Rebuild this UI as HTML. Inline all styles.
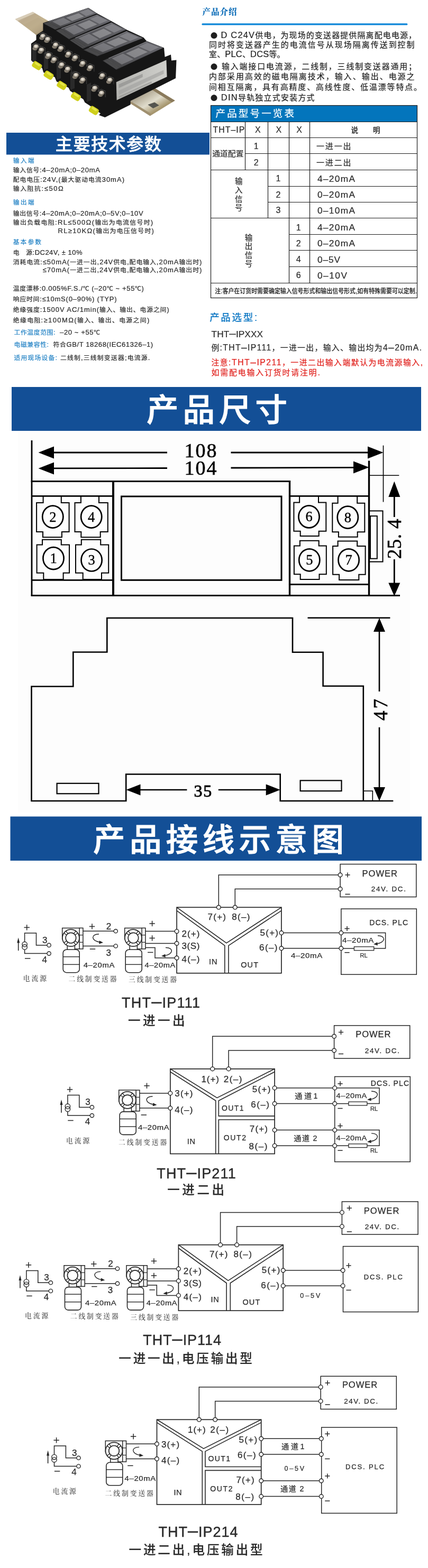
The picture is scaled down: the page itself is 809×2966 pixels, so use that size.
<!DOCTYPE html>
<html lang="zh-CN">
<head>
<meta charset="utf-8">
<title>THT-IP 隔离配电器 产品介绍</title>
<style>
html,body{margin:0;padding:0;background:#fff;}
body{width:809px;height:2966px;overflow:hidden;position:relative;font-family:"Liberation Sans","Noto Sans CJK SC",sans-serif;}
svg{position:absolute;left:0;top:0;display:block;will-change:transform;}
text{white-space:pre;font-family:"Liberation Sans","Noto Sans CJK SC",sans-serif;}
.lr{font-family:"Liberation Serif","Noto Serif CJK SC",serif;}
.cr{font-family:"Noto Serif CJK SC","Liberation Serif",serif;}
</style>
</head>
<body>
<svg width="809" height="2966" viewBox="0 0 809 2966">
<!-- product photo -->
<defs>
<linearGradient id="railA" x1="0" y1="0" x2="1" y2="1"><stop offset="0" stop-color="#d8ccb4"/><stop offset="0.3" stop-color="#bcab8e"/><stop offset="0.6" stop-color="#c4b490"/><stop offset="1" stop-color="#8c7c60"/></linearGradient>
<linearGradient id="railB" x1="0" y1="0" x2="1" y2="1"><stop offset="0" stop-color="#5e5242"/><stop offset="0.3" stop-color="#b8b09c"/><stop offset="0.5" stop-color="#e0dccc"/><stop offset="0.7" stop-color="#a89870"/><stop offset="1" stop-color="#7c6a4c"/></linearGradient>
<linearGradient id="topF" x1="0" y1="1" x2="1" y2="0"><stop offset="0" stop-color="#3e3e40"/><stop offset="0.3" stop-color="#525256"/><stop offset="1" stop-color="#6a6a70"/></linearGradient>
<radialGradient id="scr" cx="0.45" cy="0.4" r="0.65"><stop offset="0" stop-color="#f6f2ea"/><stop offset="0.45" stop-color="#c4bcae"/><stop offset="1" stop-color="#3a342c"/></radialGradient>
<linearGradient id="lab" x1="0" y1="0" x2="1" y2="0"><stop offset="0" stop-color="#b4b4b0"/><stop offset="1" stop-color="#cfcfcb"/></linearGradient>
<filter id="blur1" x="-5%" y="-5%" width="110%" height="110%"><feGaussianBlur stdDeviation="0.45"/></filter>
</defs>
<g filter="url(#blur1)">
<polygon points="28.6,36.2 62.1,22.5 92.0,40.0 84.0,60.0 68.9,66.5" fill="url(#railA)" />
<polygon points="28.6,36.2 62.1,22.5 66.0,25.0 33.0,39.5" fill="#d8cdb8" />
<polygon points="44.0,47.0 72.0,33.0 86.0,42.0 78.0,58.0 68.0,64.0" fill="#b8a888" opacity="0.55"/>
<polygon points="243.9,187.9 292.2,166.6 330.7,190.2 283.7,219.2 245.3,195.0" fill="url(#railB)" />
<polygon points="292.2,166.6 330.7,190.2 325.0,193.6 288.0,170.3" fill="#8a7a5c" />
<polygon points="245.3,195.0 283.7,219.2 286.6,215.8 248.2,192.2" fill="#a09070" />
<polygon points="279.4,197.9 292.2,193.6 300.8,199.3 289.4,205.0" fill="#55554f" />
<polygon points="81.4,43.5 167.0,14.8 183.7,25.4 211.0,40.2 239.4,56.2 271.3,70.9 277.0,77.5 310.0,90.5 311.6,107.7 323.0,103.2 324.1,114.5 333.5,113.4 332.1,148.1 297.9,165.2 246.7,190.8 246.7,197.9 198.4,222.1 187.0,217.8 190.0,214.5 170.0,200.0 160.4,193.8 157.5,187.8 132.6,172.0 129.6,166.0 106.7,154.0 103.7,146.0 82.2,137.0 79.8,129.0 58.9,114.2 58.9,82.5 68.5,75.5 68.5,66.5 81.4,58.0" fill="#151515" />
<polygon points="60.7,84.0 68.7,80.0 68.7,114.0 60.7,117.0" fill="#2a2a2a" />
<polygon points="83.0,100.0 91.0,96.0 91.0,130.0 83.0,133.0" fill="#2a2a2a" />
<polygon points="107.0,118.0 115.0,114.0 115.0,148.0 107.0,151.0" fill="#2a2a2a" />
<polygon points="133.0,137.0 141.0,133.0 141.0,167.0 133.0,170.0" fill="#2a2a2a" />
<polygon points="164.0,160.0 172.0,156.0 172.0,190.0 164.0,193.0" fill="#2a2a2a" />
<polygon points="81.4,44.1 167.0,15.3 183.2,25.6 104.6,56.3" fill="#38383a" />
<polygon points="92.5,40.4 167.0,15.3 182.9,25.4 114.3,52.1" fill="url(#topF)" />
<polygon points="83.2,44.3 83.9,44.1 104.8,55.1 104.2,55.4" fill="#6a6a6a" opacity="0.75"/>
<polygon points="84.7,43.8 85.4,43.6 106.2,54.6 105.6,54.8" fill="#6a6a6a" opacity="0.75"/>
<polygon points="86.3,43.3 87.0,43.0 107.7,54.0 107.0,54.3" fill="#6a6a6a" opacity="0.75"/>
<polygon points="87.8,42.8 88.5,42.5 109.1,53.5 108.4,53.7" fill="#6a6a6a" opacity="0.75"/>
<polygon points="89.4,42.2 90.0,42.0 110.5,52.9 109.9,53.2" fill="#6a6a6a" opacity="0.75"/>
<polygon points="90.9,41.7 91.6,41.5 111.9,52.4 111.3,52.6" fill="#6a6a6a" opacity="0.75"/>
<polygon points="92.4,41.2 93.1,41.0 113.3,51.8 112.7,52.1" fill="#6a6a6a" opacity="0.75"/>
<polygon points="98.7,40.7 119.9,33.4 134.1,41.4 114.1,49.0" fill="#b0b0b4" opacity="0.4"/>
<polygon points="124.9,33.2 148.5,25.0 158.9,31.2 136.4,39.7" fill="#c0c0c4" opacity="0.45"/>
<polygon points="150.4,23.0 166.5,17.4 178.0,24.7 162.8,30.5" fill="#b0b0b4" opacity="0.4"/>
<polygon points="92.5,40.4 167.0,15.3 167.8,15.8 93.7,41.0" fill="#8c8c90" opacity="0.7"/>
<polygon points="105.3,57.5 183.7,27.5 210.2,40.3 130.7,74.4" fill="#38383a" />
<polygon points="115.5,53.6 183.7,27.5 209.6,40.0 140.5,69.6" fill="url(#topF)" />
<polygon points="107.1,57.9 107.8,57.7 130.8,72.9 130.2,73.2" fill="#6a6a6a" opacity="0.75"/>
<polygon points="108.5,57.4 109.2,57.1 132.3,72.3 131.6,72.6" fill="#6a6a6a" opacity="0.75"/>
<polygon points="110.0,56.8 110.6,56.6 133.7,71.7 133.1,72.0" fill="#6a6a6a" opacity="0.75"/>
<polygon points="111.4,56.3 112.0,56.0 135.1,71.1 134.5,71.3" fill="#6a6a6a" opacity="0.75"/>
<polygon points="112.8,55.7 113.4,55.5 136.6,70.5 135.9,70.7" fill="#6a6a6a" opacity="0.75"/>
<polygon points="114.2,55.2 114.8,54.9 138.0,69.9 137.3,70.1" fill="#6a6a6a" opacity="0.75"/>
<polygon points="115.6,54.6 116.2,54.4 139.4,69.2 138.8,69.5" fill="#6a6a6a" opacity="0.75"/>
<polygon points="121.8,54.4 141.4,46.8 159.6,57.4 139.7,65.7" fill="#b0b0b4" opacity="0.4"/>
<polygon points="146.7,46.8 168.7,38.2 183.8,46.2 161.7,55.5" fill="#c0c0c4" opacity="0.45"/>
<polygon points="169.7,35.8 184.6,30.0 203.2,39.1 188.1,45.4" fill="#b0b0b4" opacity="0.4"/>
<polygon points="115.5,53.6 183.7,27.5 185.1,28.2 116.8,54.4" fill="#8c8c90" opacity="0.7"/>
<polygon points="131.5,76.0 211.0,42.5 238.5,56.3 156.9,92.6" fill="#38383a" />
<polygon points="141.8,71.6 211.0,42.5 238.0,56.0 167.0,87.5" fill="url(#topF)" />
<polygon points="133.3,76.3 134.0,76.1 157.1,91.1 156.4,91.4" fill="#6a6a6a" opacity="0.75"/>
<polygon points="134.8,75.7 135.4,75.5 158.5,90.4 157.9,90.7" fill="#6a6a6a" opacity="0.75"/>
<polygon points="136.2,75.1 136.8,74.9 160.0,89.8 159.4,90.1" fill="#6a6a6a" opacity="0.75"/>
<polygon points="137.6,74.5 138.3,74.3 161.5,89.1 160.8,89.4" fill="#6a6a6a" opacity="0.75"/>
<polygon points="139.1,73.9 139.7,73.7 162.9,88.5 162.3,88.8" fill="#6a6a6a" opacity="0.75"/>
<polygon points="140.5,73.3 141.1,73.1 164.4,87.8 163.8,88.1" fill="#6a6a6a" opacity="0.75"/>
<polygon points="141.9,72.7 142.6,72.4 165.9,87.2 165.2,87.5" fill="#6a6a6a" opacity="0.75"/>
<polygon points="148.2,72.3 168.1,63.8 186.6,74.6 166.3,83.6" fill="#b0b0b4" opacity="0.4"/>
<polygon points="173.5,63.7 195.9,54.2 211.5,62.6 188.8,72.6" fill="#c0c0c4" opacity="0.45"/>
<polygon points="196.9,51.7 212.0,45.2 231.3,54.9 215.8,61.7" fill="#b0b0b4" opacity="0.4"/>
<polygon points="141.8,71.6 211.0,42.5 212.4,43.2 143.2,72.5" fill="#8c8c90" opacity="0.7"/>
<polygon points="157.7,94.5 239.4,59.0 270.3,72.2 184.2,106.6" fill="#38383a" />
<polygon points="168.3,89.9 239.4,59.0 269.7,71.9 194.8,101.9" fill="url(#topF)" />
<polygon points="159.6,94.6 160.3,94.4 184.4,105.4 183.7,105.7" fill="#6a6a6a" opacity="0.75"/>
<polygon points="161.1,94.0 161.7,93.7 185.9,104.8 185.2,105.0" fill="#6a6a6a" opacity="0.75"/>
<polygon points="162.6,93.4 163.2,93.1 187.5,104.1 186.8,104.4" fill="#6a6a6a" opacity="0.75"/>
<polygon points="164.0,92.7 164.7,92.4 189.0,103.5 188.3,103.8" fill="#6a6a6a" opacity="0.75"/>
<polygon points="165.5,92.1 166.2,91.8 190.5,102.9 189.9,103.2" fill="#6a6a6a" opacity="0.75"/>
<polygon points="167.0,91.5 167.6,91.2 192.1,102.3 191.4,102.6" fill="#6a6a6a" opacity="0.75"/>
<polygon points="168.5,90.8 169.1,90.5 193.6,101.7 193.0,101.9" fill="#6a6a6a" opacity="0.75"/>
<polygon points="175.0,90.0 195.5,81.1 215.4,90.0 194.1,98.6" fill="#b0b0b4" opacity="0.4"/>
<polygon points="201.2,80.8 224.3,70.9 241.5,78.3 217.6,88.1" fill="#c0c0c4" opacity="0.45"/>
<polygon points="225.1,68.4 240.8,61.7 262.4,70.9 246.1,77.5" fill="#b0b0b4" opacity="0.4"/>
<polygon points="168.3,89.9 239.4,59.0 241.0,59.7 169.7,90.5" fill="#8c8c90" opacity="0.7"/>
<polygon points="193.9,114.7 277.0,78.3 309.0,90.4 219.8,132.0" fill="#38383a" />
<polygon points="204.7,110.0 277.0,78.3 308.4,90.2 230.8,126.2" fill="url(#topF)" />
<polygon points="195.8,115.0 196.5,114.8 220.1,130.3 219.4,130.7" fill="#6a6a6a" opacity="0.75"/>
<polygon points="197.3,114.4 198.0,114.1 221.7,129.6 221.0,129.9" fill="#6a6a6a" opacity="0.75"/>
<polygon points="198.8,113.7 199.5,113.4 223.3,128.8 222.6,129.2" fill="#6a6a6a" opacity="0.75"/>
<polygon points="200.3,113.1 201.0,112.8 224.9,128.1 224.2,128.4" fill="#6a6a6a" opacity="0.75"/>
<polygon points="201.8,112.4 202.5,112.1 226.5,127.4 225.8,127.7" fill="#6a6a6a" opacity="0.75"/>
<polygon points="203.3,111.8 204.0,111.5 228.1,126.6 227.4,126.9" fill="#6a6a6a" opacity="0.75"/>
<polygon points="204.8,111.1 205.5,110.8 229.7,125.9 229.0,126.2" fill="#6a6a6a" opacity="0.75"/>
<polygon points="211.4,110.5 232.3,101.3 252.3,111.9 230.2,122.0" fill="#b0b0b4" opacity="0.4"/>
<polygon points="238.0,101.0 261.7,90.5 279.2,98.3 254.6,109.6" fill="#c0c0c4" opacity="0.45"/>
<polygon points="262.5,87.9 278.4,80.9 300.8,89.5 284.0,97.2" fill="#b0b0b4" opacity="0.4"/>
<polygon points="204.7,110.0 277.0,78.3 278.6,78.9 206.1,110.8" fill="#8c8c90" opacity="0.7"/>
<polygon points="219.7,155.2 314.4,113.4 315.6,145.3 220.6,189.4" fill="url(#lab)" />
<polygon points="224.5,159.5 269.5,139.6 269.8,145.8 224.8,166.6" fill="#8a8a88" opacity="0.6"/>
<polygon points="224.5,171.4 309.3,132.5 309.6,139.6 224.8,179.4" fill="#a0a09e" opacity="0.6"/>
<polygon points="224.5,182.2 286.6,153.8 286.8,157.2 224.8,185.7" fill="#8a8a88" opacity="0.5"/>
<path d="M73.7,65.4 L80.2,61.4 L88.2,64.9" fill="none" stroke="#4a4a4a" stroke-width="1.3"/>
<path d="M88.2,64.9 L88.2,76.4" fill="none" stroke="#3a3a3a" stroke-width="1.2"/>
<ellipse cx="79.0" cy="72.0" rx="4.8" ry="3.4" fill="#857d70"/>
<ellipse cx="81.2" cy="68.4" rx="5.4" ry="4.6" fill="url(#scr)"/>
<path d="M82.8,71.1 L89.3,67.1 L97.3,70.6" fill="none" stroke="#4a4a4a" stroke-width="1.3"/>
<path d="M97.3,70.6 L97.3,82.1" fill="none" stroke="#3a3a3a" stroke-width="1.2"/>
<ellipse cx="88.1" cy="77.7" rx="4.8" ry="3.4" fill="#857d70"/>
<ellipse cx="90.3" cy="74.1" rx="5.4" ry="4.6" fill="url(#scr)"/>
<path d="M60.9,85.3 L67.4,81.3 L75.4,84.8" fill="none" stroke="#4a4a4a" stroke-width="1.3"/>
<path d="M75.4,84.8 L75.4,96.3" fill="none" stroke="#3a3a3a" stroke-width="1.2"/>
<ellipse cx="66.2" cy="91.9" rx="4.8" ry="3.4" fill="#857d70"/>
<ellipse cx="68.4" cy="88.3" rx="5.4" ry="4.6" fill="url(#scr)"/>
<path d="M70.9,91.5 L77.4,87.5 L85.4,91.0" fill="none" stroke="#4a4a4a" stroke-width="1.3"/>
<path d="M85.4,91.0 L85.4,102.5" fill="none" stroke="#3a3a3a" stroke-width="1.2"/>
<ellipse cx="76.2" cy="98.1" rx="4.8" ry="3.4" fill="#857d70"/>
<ellipse cx="78.4" cy="94.5" rx="5.4" ry="4.6" fill="url(#scr)"/>
<path d="M97.9,81.9 L104.4,77.9 L112.4,81.4" fill="none" stroke="#4a4a4a" stroke-width="1.3"/>
<path d="M112.4,81.4 L112.4,92.9" fill="none" stroke="#3a3a3a" stroke-width="1.2"/>
<ellipse cx="103.2" cy="88.5" rx="4.8" ry="3.4" fill="#857d70"/>
<ellipse cx="105.4" cy="84.9" rx="5.4" ry="4.6" fill="url(#scr)"/>
<path d="M107.8,88.1 L114.3,84.1 L122.3,87.6" fill="none" stroke="#4a4a4a" stroke-width="1.3"/>
<path d="M122.3,87.6 L122.3,99.1" fill="none" stroke="#3a3a3a" stroke-width="1.2"/>
<ellipse cx="113.1" cy="94.7" rx="4.8" ry="3.4" fill="#857d70"/>
<ellipse cx="115.3" cy="91.1" rx="5.4" ry="4.6" fill="url(#scr)"/>
<path d="M84.5,101.5 L91.0,97.5 L99.0,101.0" fill="none" stroke="#4a4a4a" stroke-width="1.3"/>
<path d="M99.0,101.0 L99.0,112.5" fill="none" stroke="#3a3a3a" stroke-width="1.2"/>
<ellipse cx="89.8" cy="108.1" rx="4.8" ry="3.4" fill="#857d70"/>
<ellipse cx="92.0" cy="104.5" rx="5.4" ry="4.6" fill="url(#scr)"/>
<path d="M95.0,109.5 L101.5,105.5 L109.5,109.0" fill="none" stroke="#4a4a4a" stroke-width="1.3"/>
<path d="M109.5,109.0 L109.5,120.5" fill="none" stroke="#3a3a3a" stroke-width="1.2"/>
<ellipse cx="100.3" cy="116.1" rx="4.8" ry="3.4" fill="#857d70"/>
<ellipse cx="102.5" cy="112.5" rx="5.4" ry="4.6" fill="url(#scr)"/>
<path d="M122.1,98.9 L128.6,94.9 L136.6,98.4" fill="none" stroke="#4a4a4a" stroke-width="1.3"/>
<path d="M136.6,98.4 L136.6,109.9" fill="none" stroke="#3a3a3a" stroke-width="1.2"/>
<ellipse cx="127.4" cy="105.5" rx="4.8" ry="3.4" fill="#857d70"/>
<ellipse cx="129.6" cy="101.9" rx="5.4" ry="4.6" fill="url(#scr)"/>
<path d="M134.9,105.8 L141.4,101.8 L149.4,105.3" fill="none" stroke="#4a4a4a" stroke-width="1.3"/>
<path d="M149.4,105.3 L149.4,116.8" fill="none" stroke="#3a3a3a" stroke-width="1.2"/>
<ellipse cx="140.2" cy="112.4" rx="4.8" ry="3.4" fill="#857d70"/>
<ellipse cx="142.4" cy="108.8" rx="5.4" ry="4.6" fill="url(#scr)"/>
<path d="M109.3,119.4 L115.8,115.4 L123.8,118.9" fill="none" stroke="#4a4a4a" stroke-width="1.3"/>
<path d="M123.8,118.9 L123.8,130.4" fill="none" stroke="#3a3a3a" stroke-width="1.2"/>
<ellipse cx="114.6" cy="126.0" rx="4.8" ry="3.4" fill="#857d70"/>
<ellipse cx="116.8" cy="122.4" rx="5.4" ry="4.6" fill="url(#scr)"/>
<path d="M120.7,127.4 L127.2,123.4 L135.2,126.9" fill="none" stroke="#4a4a4a" stroke-width="1.3"/>
<path d="M135.2,126.9 L135.2,138.4" fill="none" stroke="#3a3a3a" stroke-width="1.2"/>
<ellipse cx="126.0" cy="134.0" rx="4.8" ry="3.4" fill="#857d70"/>
<ellipse cx="128.2" cy="130.4" rx="5.4" ry="4.6" fill="url(#scr)"/>
<path d="M149.1,116.6 L155.6,112.6 L163.6,116.1" fill="none" stroke="#4a4a4a" stroke-width="1.3"/>
<path d="M163.6,116.1 L163.6,127.6" fill="none" stroke="#3a3a3a" stroke-width="1.2"/>
<ellipse cx="154.4" cy="123.2" rx="4.8" ry="3.4" fill="#857d70"/>
<ellipse cx="156.6" cy="119.6" rx="5.4" ry="4.6" fill="url(#scr)"/>
<path d="M163.3,124.5 L169.8,120.5 L177.8,124.0" fill="none" stroke="#4a4a4a" stroke-width="1.3"/>
<path d="M177.8,124.0 L177.8,135.5" fill="none" stroke="#3a3a3a" stroke-width="1.2"/>
<ellipse cx="168.6" cy="131.1" rx="4.8" ry="3.4" fill="#857d70"/>
<ellipse cx="170.8" cy="127.5" rx="5.4" ry="4.6" fill="url(#scr)"/>
<path d="M136.3,139.3 L142.8,135.3 L150.8,138.8" fill="none" stroke="#4a4a4a" stroke-width="1.3"/>
<path d="M150.8,138.8 L150.8,150.3" fill="none" stroke="#3a3a3a" stroke-width="1.2"/>
<ellipse cx="141.6" cy="145.9" rx="4.8" ry="3.4" fill="#857d70"/>
<ellipse cx="143.8" cy="142.3" rx="5.4" ry="4.6" fill="url(#scr)"/>
<path d="M149.1,147.9 L155.6,143.9 L163.6,147.4" fill="none" stroke="#4a4a4a" stroke-width="1.3"/>
<path d="M163.6,147.4 L163.6,158.9" fill="none" stroke="#3a3a3a" stroke-width="1.2"/>
<ellipse cx="154.4" cy="154.5" rx="4.8" ry="3.4" fill="#857d70"/>
<ellipse cx="156.6" cy="150.9" rx="5.4" ry="4.6" fill="url(#scr)"/>
<path d="M186.1,139.9 L192.6,135.9 L200.6,139.4" fill="none" stroke="#4a4a4a" stroke-width="1.3"/>
<path d="M200.6,139.4 L200.6,150.9" fill="none" stroke="#3a3a3a" stroke-width="1.2"/>
<ellipse cx="191.4" cy="146.5" rx="4.8" ry="3.4" fill="#857d70"/>
<ellipse cx="193.6" cy="142.9" rx="5.4" ry="4.6" fill="url(#scr)"/>
<path d="M200.3,148.4 L206.8,144.4 L214.8,147.9" fill="none" stroke="#4a4a4a" stroke-width="1.3"/>
<path d="M214.8,147.9 L214.8,159.4" fill="none" stroke="#3a3a3a" stroke-width="1.2"/>
<ellipse cx="205.6" cy="155.0" rx="4.8" ry="3.4" fill="#857d70"/>
<ellipse cx="207.8" cy="151.4" rx="5.4" ry="4.6" fill="url(#scr)"/>
<path d="M171.9,163.5 L178.4,159.5 L186.4,163.0" fill="none" stroke="#4a4a4a" stroke-width="1.3"/>
<path d="M186.4,163.0 L186.4,174.5" fill="none" stroke="#3a3a3a" stroke-width="1.2"/>
<ellipse cx="177.2" cy="170.1" rx="4.8" ry="3.4" fill="#857d70"/>
<ellipse cx="179.4" cy="166.5" rx="5.4" ry="4.6" fill="url(#scr)"/>
<path d="M184.7,172.9 L191.2,168.9 L199.2,172.4" fill="none" stroke="#4a4a4a" stroke-width="1.3"/>
<path d="M199.2,172.4 L199.2,183.9" fill="none" stroke="#3a3a3a" stroke-width="1.2"/>
<ellipse cx="190.0" cy="179.5" rx="4.8" ry="3.4" fill="#857d70"/>
<ellipse cx="192.2" cy="175.9" rx="5.4" ry="4.6" fill="url(#scr)"/>
<rect x="61.0" y="117.9" width="18" height="12.5" rx="4" fill="#cfcf1c" transform="rotate(32 70.0 123.9)"/>
<rect x="64.0" y="119.4" width="11" height="4" rx="2" fill="#e6e64a" transform="rotate(32 70.0 123.9)"/>
<rect x="83.1" y="136.1" width="18" height="12.5" rx="4" fill="#cfcf1c" transform="rotate(32 92.1 142.1)"/>
<rect x="86.1" y="137.6" width="11" height="4" rx="2" fill="#e6e64a" transform="rotate(32 92.1 142.1)"/>
<rect x="107.9" y="155.4" width="18" height="12.5" rx="4" fill="#cfcf1c" transform="rotate(32 116.9 161.4)"/>
<rect x="110.9" y="156.9" width="11" height="4" rx="2" fill="#e6e64a" transform="rotate(32 116.9 161.4)"/>
<rect x="134.6" y="176.4" width="18" height="12.5" rx="4" fill="#cfcf1c" transform="rotate(32 143.6 182.4)"/>
<rect x="137.6" y="177.9" width="11" height="4" rx="2" fill="#e6e64a" transform="rotate(32 143.6 182.4)"/>
<rect x="168.5" y="202.8" width="18" height="12.5" rx="4" fill="#cfcf1c" transform="rotate(32 177.5 208.8)"/>
<rect x="171.5" y="204.3" width="11" height="4" rx="2" fill="#e6e64a" transform="rotate(32 177.5 208.8)"/>
</g>
<!-- specs, intro and model table -->
<rect x="12" y="251" width="384" height="41.5" fill="#134f96"/>
<text x="104.8" y="284.3" font-size="32.3" fill="#fff" font-weight="500" textLength="200.2" lengthAdjust="spacing" stroke="#fff" stroke-width="0.5" stroke-linejoin="round">主要技术参数</text>
<text x="24.8" y="307.9" font-size="11.8" fill="#2080c4" textLength="39.7" lengthAdjust="spacing" stroke="#2080c4" stroke-width="0.22" stroke-linejoin="round">输入端</text>
<text x="24.8" y="326.4" font-size="11.8" fill="#2a2a2a" textLength="164.2" lengthAdjust="spacing" stroke="#2a2a2a" stroke-width="0.22" stroke-linejoin="round">输入信号<tspan font-size="13.0">:4–20mA;0–20mA</tspan></text>
<text x="24.8" y="343.6" font-size="11.8" fill="#2a2a2a" textLength="210.2" lengthAdjust="spacing" stroke="#2a2a2a" stroke-width="0.22" stroke-linejoin="round">配电电压<tspan font-size="13.0">:24V,(</tspan>最大驱动电流<tspan font-size="13.0">30mA)</tspan></text>
<text x="24.8" y="360.9" font-size="11.8" fill="#2a2a2a" textLength="95.0" lengthAdjust="spacing" stroke="#2a2a2a" stroke-width="0.22" stroke-linejoin="round">输入阻抗<tspan font-size="13.0">:≤50Ω</tspan></text>
<text x="24.8" y="386.8" font-size="11.8" fill="#2080c4" textLength="39.7" lengthAdjust="spacing" stroke="#2080c4" stroke-width="0.22" stroke-linejoin="round">输出端</text>
<text x="24.8" y="408.2" font-size="11.8" fill="#2a2a2a" textLength="245.9" lengthAdjust="spacing" stroke="#2a2a2a" stroke-width="0.22" stroke-linejoin="round">输出信号<tspan font-size="13.0">:4–20mA;0–20mA;0–5V;0–10V</tspan></text>
<text x="24.8" y="425.4" font-size="11.8" fill="#2a2a2a" textLength="264.4" lengthAdjust="spacing" stroke="#2a2a2a" stroke-width="0.22" stroke-linejoin="round">输出负载电阻<tspan font-size="13.0">:RL≤500Ω(</tspan>输出为电流信号时<tspan font-size="13.0">)</tspan></text>
<text x="109.4" y="441.0" font-size="11.8" fill="#2a2a2a" textLength="181.5" lengthAdjust="spacing" stroke="#2a2a2a" stroke-width="0.22" stroke-linejoin="round"><tspan font-size="13.0">RL≥10KΩ(</tspan>输出为电压信号时<tspan font-size="13.0">)</tspan></text>
<text x="24.8" y="461.7" font-size="11.8" fill="#2080c4" textLength="53.2" lengthAdjust="spacing" stroke="#2080c4" stroke-width="0.22" stroke-linejoin="round">基本参数</text>
<text x="24.8" y="481.9" font-size="11.8" fill="#2a2a2a" textLength="130.7" lengthAdjust="spacing" stroke="#2a2a2a" stroke-width="0.22" stroke-linejoin="round">电　源<tspan font-size="13.0">:DC24V, ± 10%</tspan></text>
<text x="24.8" y="500.3" font-size="11.8" fill="#2a2a2a" textLength="356.5" lengthAdjust="spacing" stroke="#2a2a2a" stroke-width="0.22" stroke-linejoin="round">消耗电流<tspan font-size="13.0">:≤50mA(</tspan>一进一出<tspan font-size="13.0">,24V</tspan>供电<tspan font-size="13.0">,</tspan>配电输入<tspan font-size="13.0">,20mA</tspan>输出时<tspan font-size="13.0">)</tspan></text>
<text x="80.6" y="515.3" font-size="11.8" fill="#2a2a2a" textLength="300.7" lengthAdjust="spacing" stroke="#2a2a2a" stroke-width="0.22" stroke-linejoin="round"><tspan font-size="13.0">≤70mA(</tspan>一进二出<tspan font-size="13.0">,24V</tspan>供电<tspan font-size="13.0">,</tspan>配电输入<tspan font-size="13.0">,20mA</tspan>输出时<tspan font-size="13.0">)</tspan></text>
<text x="24.8" y="550.4" font-size="11.8" fill="#2a2a2a" textLength="247.1" lengthAdjust="spacing" stroke="#2a2a2a" stroke-width="0.22" stroke-linejoin="round">温度漂移<tspan font-size="13.0">:0.005%F.S./</tspan>℃ <tspan font-size="13.0">(–20</tspan>℃ <tspan font-size="13.0">~ +55</tspan>℃<tspan font-size="13.0">)</tspan></text>
<text x="24.8" y="570.0" font-size="11.8" fill="#2a2a2a" textLength="195.8" lengthAdjust="spacing" stroke="#2a2a2a" stroke-width="0.22" stroke-linejoin="round">响应时间<tspan font-size="13.0">:≤10mS(0–90%) (TYP)</tspan></text>
<text x="24.8" y="590.2" font-size="11.8" fill="#2a2a2a" textLength="294.9" lengthAdjust="spacing" stroke="#2a2a2a" stroke-width="0.22" stroke-linejoin="round">绝缘强度<tspan font-size="13.0">:1500V AC/1min(</tspan>输入、输出、电源之间<tspan font-size="13.0">)</tspan></text>
<text x="24.8" y="610.4" font-size="11.8" fill="#2a2a2a" textLength="257.5" lengthAdjust="spacing" stroke="#2a2a2a" stroke-width="0.22" stroke-linejoin="round">绝缘电阻<tspan font-size="13.0">:≥100MΩ(</tspan>输入、输出、电源之间<tspan font-size="13.0">)</tspan></text>
<text x="26.5" y="633.4" font-size="11.8" fill="#2a2a2a" textLength="162.5" lengthAdjust="spacing" xml:space="preserve" stroke="#2a2a2a" stroke-width="0.22" stroke-linejoin="round"><tspan fill="#2080c4" stroke="#2080c4">工作温度范围<tspan font-size="13.0">:</tspan></tspan>  <tspan font-size="13.0">–20 ~ +55</tspan>℃</text>
<text x="26.5" y="656.4" font-size="11.8" fill="#2a2a2a" textLength="262.7" lengthAdjust="spacing" xml:space="preserve" stroke="#2a2a2a" stroke-width="0.22" stroke-linejoin="round"><tspan fill="#2080c4" stroke="#2080c4">电磁兼容性<tspan font-size="13.0">:</tspan></tspan>  符合<tspan font-size="13.0">GB/T 18268(IEC61326–1)</tspan></text>
<text x="26.5" y="680.6" font-size="11.8" fill="#2a2a2a" textLength="256.9" lengthAdjust="spacing" xml:space="preserve" stroke="#2a2a2a" stroke-width="0.22" stroke-linejoin="round"><tspan fill="#2080c4" stroke="#2080c4">适用现场设备<tspan font-size="13.0">:</tspan></tspan> 二线制<tspan font-size="13.0">,</tspan>三线制变送器<tspan font-size="13.0">;</tspan>电流源<tspan font-size="13.0">.</tspan></text>
<text x="382.5" y="28.3" font-size="15.6" fill="#0d6db8" class="cr" font-weight="900" textLength="65.0" lengthAdjust="spacing">产品介绍</text>
<rect x="381.4" y="44.2" width="389" height="3.2" rx="1.5" fill="#0d86d8"/>
<text x="398.0" y="71.6" font-size="14.9" fill="#1e1e1e" textLength="389.0" lengthAdjust="spacing" xml:space="preserve" stroke="#1e1e1e" stroke-width="0.22" stroke-linejoin="round"><tspan font-family="Noto Sans CJK SC" font-size="13">●</tspan> <tspan font-size="16.4">D C24V</tspan>供电，为现场的变送器提供隔离配电电源，</text>
<text x="395.0" y="90.4" font-size="14.9" fill="#1e1e1e" textLength="388.5" lengthAdjust="spacing" stroke="#1e1e1e" stroke-width="0.22" stroke-linejoin="round">同时将变送器产生的电流信号从现场隔离传送到控制</text>
<text x="395.0" y="108.4" font-size="14.9" fill="#1e1e1e" textLength="143.5" lengthAdjust="spacing" stroke="#1e1e1e" stroke-width="0.22" stroke-linejoin="round">室、<tspan font-size="16.4">PLC</tspan>、<tspan font-size="16.4">DCS</tspan>等。</text>
<text x="398.0" y="130.9" font-size="14.9" fill="#1e1e1e" textLength="389.0" lengthAdjust="spacing" xml:space="preserve" stroke="#1e1e1e" stroke-width="0.22" stroke-linejoin="round"><tspan font-family="Noto Sans CJK SC" font-size="13">●</tspan> 输入端接口电流源，二线制，三线制变送器通用；</text>
<text x="395.0" y="150.4" font-size="14.9" fill="#1e1e1e" textLength="388.5" lengthAdjust="spacing" stroke="#1e1e1e" stroke-width="0.22" stroke-linejoin="round">内部采用高效的磁电隔离技术，输入、输出、电源之</text>
<text x="395.0" y="169.7" font-size="14.9" fill="#1e1e1e" textLength="402.0" lengthAdjust="spacing" stroke="#1e1e1e" stroke-width="0.22" stroke-linejoin="round">间相互隔离，具有高精度、高线性度、低温漂等特点。</text>
<text x="398.0" y="190.4" font-size="14.9" fill="#1e1e1e" textLength="196.5" lengthAdjust="spacing" xml:space="preserve" stroke="#1e1e1e" stroke-width="0.22" stroke-linejoin="round"><tspan font-family="Noto Sans CJK SC" font-size="13">●</tspan> <tspan font-size="16.4">DIN</tspan>导轨独立式安装方式</text>
<rect x="399" y="199" width="390" height="31.5" fill="#0375bc"/>
<text x="407.5" y="221.3" font-size="18.5" fill="#fff" textLength="148.5" lengthAdjust="spacing" stroke="#fff" stroke-width="0.22" stroke-linejoin="round">产品型号一览表</text>
<rect x="398.5" y="199.5" width="390.0" height="364.0" rx="0" stroke="#1c1c1c" stroke-width="1.2" fill="none" />
<line x1="398.5" y1="230.5" x2="788.5" y2="230.5" stroke="#1c1c1c" stroke-width="1.2" />
<line x1="398.5" y1="260.5" x2="788.5" y2="260.5" stroke="#1c1c1c" stroke-width="1.2" />
<line x1="398.5" y1="321.5" x2="788.5" y2="321.5" stroke="#1c1c1c" stroke-width="1.2" />
<line x1="398.5" y1="412.5" x2="788.5" y2="412.5" stroke="#1c1c1c" stroke-width="1.2" />
<line x1="398.5" y1="535.5" x2="788.5" y2="535.5" stroke="#1c1c1c" stroke-width="1.2" />
<line x1="463.5" y1="290.5" x2="788.5" y2="290.5" stroke="#1c1c1c" stroke-width="1.2" />
<line x1="506.5" y1="352.5" x2="788.5" y2="352.5" stroke="#1c1c1c" stroke-width="1.2" />
<line x1="506.5" y1="382.5" x2="788.5" y2="382.5" stroke="#1c1c1c" stroke-width="1.2" />
<line x1="546.5" y1="443.5" x2="788.5" y2="443.5" stroke="#1c1c1c" stroke-width="1.2" />
<line x1="546.5" y1="473.5" x2="788.5" y2="473.5" stroke="#1c1c1c" stroke-width="1.2" />
<line x1="546.5" y1="504.5" x2="788.5" y2="504.5" stroke="#1c1c1c" stroke-width="1.2" />
<line x1="463.5" y1="230.5" x2="463.5" y2="321.5" stroke="#1c1c1c" stroke-width="1.2" />
<line x1="506.5" y1="230.5" x2="506.5" y2="412.5" stroke="#1c1c1c" stroke-width="1.2" />
<line x1="546.5" y1="230.5" x2="546.5" y2="535.5" stroke="#1c1c1c" stroke-width="1.2" />
<line x1="585.5" y1="230.5" x2="585.5" y2="535.5" stroke="#1c1c1c" stroke-width="1.2" />
<text x="402.5" y="250.5" font-size="15.8" fill="#2a2a2a" textLength="59.8" lengthAdjust="spacing" stroke="#2a2a2a" stroke-width="0.22" stroke-linejoin="round">THT–IP</text>
<text x="487.4" y="251.3" font-size="16" fill="#2a2a2a" text-anchor="middle" stroke="#2a2a2a" stroke-width="0.22" stroke-linejoin="round">X</text>
<text x="526.8" y="251.3" font-size="16" fill="#2a2a2a" text-anchor="middle" stroke="#2a2a2a" stroke-width="0.22" stroke-linejoin="round">X</text>
<text x="565.5" y="251.3" font-size="16" fill="#2a2a2a" text-anchor="middle" stroke="#2a2a2a" stroke-width="0.22" stroke-linejoin="round">X</text>
<text x="663.5" y="250.9" font-size="13.5" fill="#2a2a2a" font-weight="500" textLength="55.0" lengthAdjust="spacing" stroke="#2a2a2a" stroke-width="0.22" stroke-linejoin="round">说　明</text>
<text x="401.2" y="295.8" font-size="15" fill="#2a2a2a" textLength="59.3" lengthAdjust="spacingAndGlyphs" stroke="#2a2a2a" stroke-width="0.22" stroke-linejoin="round">通道配置</text>
<text x="484.3" y="281.8" font-size="16" fill="#2a2a2a" text-anchor="middle" stroke="#2a2a2a" stroke-width="0.22" stroke-linejoin="round">1</text>
<text x="484.3" y="313.1" font-size="16" fill="#2a2a2a" text-anchor="middle" stroke="#2a2a2a" stroke-width="0.22" stroke-linejoin="round">2</text>
<text x="598.0" y="281.9" font-size="15" fill="#2a2a2a" textLength="65.5" lengthAdjust="spacing" stroke="#2a2a2a" stroke-width="0.22" stroke-linejoin="round">一进一出</text>
<text x="598.0" y="312.9" font-size="15" fill="#2a2a2a" textLength="65.5" lengthAdjust="spacing" stroke="#2a2a2a" stroke-width="0.22" stroke-linejoin="round">一进二出</text>
<text x="451.2" y="347.7" font-size="14.5" fill="#2a2a2a" text-anchor="middle" stroke="#2a2a2a" stroke-width="0.22" stroke-linejoin="round">输</text>
<text x="451.2" y="365.2" font-size="14.5" fill="#2a2a2a" text-anchor="middle" stroke="#2a2a2a" stroke-width="0.22" stroke-linejoin="round">入</text>
<text x="451.2" y="382.0" font-size="14.5" fill="#2a2a2a" text-anchor="middle" stroke="#2a2a2a" stroke-width="0.22" stroke-linejoin="round">信</text>
<text x="451.2" y="397.7" font-size="14.5" fill="#2a2a2a" text-anchor="middle" stroke="#2a2a2a" stroke-width="0.22" stroke-linejoin="round">号</text>
<text x="470.0" y="455.2" font-size="14.5" fill="#2a2a2a" text-anchor="middle" stroke="#2a2a2a" stroke-width="0.22" stroke-linejoin="round">输</text>
<text x="470.0" y="471.2" font-size="14.5" fill="#2a2a2a" text-anchor="middle" stroke="#2a2a2a" stroke-width="0.22" stroke-linejoin="round">出</text>
<text x="470.0" y="488.2" font-size="14.5" fill="#2a2a2a" text-anchor="middle" stroke="#2a2a2a" stroke-width="0.22" stroke-linejoin="round">信</text>
<text x="470.0" y="503.8" font-size="14.5" fill="#2a2a2a" text-anchor="middle" stroke="#2a2a2a" stroke-width="0.22" stroke-linejoin="round">号</text>
<text x="526.0" y="343.3" font-size="16" fill="#2a2a2a" text-anchor="middle" stroke="#2a2a2a" stroke-width="0.22" stroke-linejoin="round">1</text>
<text x="599.9" y="343.7" font-size="17.3" fill="#2a2a2a" textLength="71.1" lengthAdjust="spacing" stroke="#2a2a2a" stroke-width="0.22" stroke-linejoin="round">4–20mA</text>
<text x="526.0" y="373.8" font-size="16" fill="#2a2a2a" text-anchor="middle" stroke="#2a2a2a" stroke-width="0.22" stroke-linejoin="round">2</text>
<text x="599.9" y="374.2" font-size="17.3" fill="#2a2a2a" textLength="71.1" lengthAdjust="spacing" stroke="#2a2a2a" stroke-width="0.22" stroke-linejoin="round">0–20mA</text>
<text x="526.0" y="403.3" font-size="16" fill="#2a2a2a" text-anchor="middle" stroke="#2a2a2a" stroke-width="0.22" stroke-linejoin="round">3</text>
<text x="599.9" y="403.7" font-size="17.3" fill="#2a2a2a" textLength="71.1" lengthAdjust="spacing" stroke="#2a2a2a" stroke-width="0.22" stroke-linejoin="round">0–10mA</text>
<text x="564.3" y="435.8" font-size="16" fill="#2a2a2a" text-anchor="middle" stroke="#2a2a2a" stroke-width="0.22" stroke-linejoin="round">1</text>
<text x="599.9" y="436.2" font-size="17.3" fill="#2a2a2a" textLength="71.1" lengthAdjust="spacing" stroke="#2a2a2a" stroke-width="0.22" stroke-linejoin="round">4–20mA</text>
<text x="564.3" y="465.8" font-size="16" fill="#2a2a2a" text-anchor="middle" stroke="#2a2a2a" stroke-width="0.22" stroke-linejoin="round">2</text>
<text x="599.9" y="466.2" font-size="17.3" fill="#2a2a2a" textLength="71.1" lengthAdjust="spacing" stroke="#2a2a2a" stroke-width="0.22" stroke-linejoin="round">0–20mA</text>
<text x="564.3" y="496.3" font-size="16" fill="#2a2a2a" text-anchor="middle" stroke="#2a2a2a" stroke-width="0.22" stroke-linejoin="round">4</text>
<text x="599.9" y="496.7" font-size="17.3" fill="#2a2a2a" textLength="43.1" lengthAdjust="spacing" stroke="#2a2a2a" stroke-width="0.22" stroke-linejoin="round">0–5V</text>
<text x="564.3" y="526.3" font-size="16" fill="#2a2a2a" text-anchor="middle" stroke="#2a2a2a" stroke-width="0.22" stroke-linejoin="round">6</text>
<text x="599.9" y="526.7" font-size="17.3" fill="#2a2a2a" textLength="56.1" lengthAdjust="spacing" stroke="#2a2a2a" stroke-width="0.22" stroke-linejoin="round">0–10V</text>
<text x="406.2" y="555.0" font-size="12.5" fill="#2a2a2a" font-weight="500" textLength="381.8" lengthAdjust="spacingAndGlyphs" stroke="#2a2a2a" stroke-width="0.22" stroke-linejoin="round">注<tspan font-size="13.8">:</tspan>客户在订货时需要确定输入信号形式和输出信号形式<tspan font-size="13.8">,</tspan>如有特殊需要可以定制<tspan font-size="13.8">.</tspan></text>
<text x="396.2" y="606.5" font-size="18.5" fill="#0f78c4" font-weight="500" textLength="90.3" lengthAdjust="spacing" stroke="#0f78c4" stroke-width="0.1" stroke-linejoin="round">产品选型<tspan font-size="20.4">:</tspan></text>
<text x="399.6" y="637.8" font-size="17.3" fill="#2a2a2a" textLength="97.4" lengthAdjust="spacing" stroke="#2a2a2a" stroke-width="0.22" stroke-linejoin="round">THT<tspan font-size="22.5">–</tspan>IPXXX</text>
<text x="399.4" y="662.6" font-size="14.8" fill="#2a2a2a" textLength="397.6" lengthAdjust="spacing" stroke="#2a2a2a" stroke-width="0.22" stroke-linejoin="round">例<tspan font-size="15.7">:THT<tspan font-size="19.2">–</tspan>IP111</tspan>，一进一出，输入、输出均为<tspan font-size="15.7">4<tspan font-size="19.2">–</tspan>20mA.</tspan></text>
<text x="399.4" y="691.3" font-size="14.8" fill="#e0201c" textLength="399.6" lengthAdjust="spacing" stroke="#e0201c" stroke-width="0.22" stroke-linejoin="round">注意<tspan font-size="15.7">:THT<tspan font-size="19.2">–</tspan>IP211</tspan>，一进二出输入端默认为电流源输入<tspan font-size="15.7">,</tspan></text>
<text x="399.4" y="710.1" font-size="14.8" fill="#e0201c" textLength="205.6" lengthAdjust="spacing" stroke="#e0201c" stroke-width="0.22" stroke-linejoin="round">如需配电输入订货时请注明<tspan font-size="16.3">.</tspan></text>
<!-- dimension drawings -->
<rect x="34" y="815" width="741" height="722" fill="#fdfdfd"/>
<rect x="22" y="732" width="774" height="83" fill="#134f96"/>
<text x="277" y="796.5" font-size="60.5" fill="#fff" stroke="#fff" stroke-width="1.1" font-weight="500" textLength="266" lengthAdjust="spacing">产品尺寸</text>
<line x1="60.0" y1="833.0" x2="60.0" y2="1126.5" stroke="#000" stroke-width="2.8" />
<line x1="58.6" y1="910.5" x2="547.5" y2="910.5" stroke="#000" stroke-width="2.8" />
<line x1="60.0" y1="938.4" x2="214.0" y2="938.4" stroke="#000" stroke-width="2.8" />
<line x1="547.5" y1="938.4" x2="697.5" y2="938.4" stroke="#000" stroke-width="2.8" />
<line x1="214.0" y1="910.5" x2="214.0" y2="1126.5" stroke="#000" stroke-width="4" />
<line x1="547.5" y1="909.1" x2="547.5" y2="1126.5" stroke="#000" stroke-width="3.4" />
<rect x="229.5" y="939.0" width="302.5" height="158.3" rx="0" stroke="#000" stroke-width="3" fill="none" />
<line x1="58.6" y1="1126.5" x2="756.0" y2="1126.5" stroke="#000" stroke-width="2.8" />
<line x1="60.0" y1="1097.3" x2="214.0" y2="1097.3" stroke="#000" stroke-width="2.8" />
<line x1="547.5" y1="1105.5" x2="697.5" y2="1105.5" stroke="#000" stroke-width="2.8" />
<line x1="697.5" y1="871.5" x2="697.5" y2="1126.5" stroke="#000" stroke-width="3.4" />
<line x1="724.5" y1="842.6" x2="724.5" y2="949.5" stroke="#000" stroke-width="1.6" />
<line x1="697.5" y1="899.3" x2="754.3" y2="899.3" stroke="#000" stroke-width="1.6" />
<line x1="100.0" y1="856.0" x2="316.0" y2="856.0" stroke="#000" stroke-width="2.8" />
<line x1="436.5" y1="856.0" x2="697.0" y2="856.0" stroke="#000" stroke-width="2.8" />
<polygon points="72.5,856.0 102.0,844.5 102.0,867.5" fill="#000"/>
<polygon points="724.5,856.0 695.0,844.5 695.0,867.5" fill="#000"/>
<line x1="100.0" y1="885.8" x2="316.0" y2="885.5" stroke="#000" stroke-width="2.8" />
<line x1="436.5" y1="885.0" x2="670.0" y2="884.3" stroke="#000" stroke-width="2.8" />
<polygon points="72.5,885.9 102.0,874.4 102.0,897.4" fill="#000"/>
<polygon points="697.5,884.0 668.0,872.5 668.0,895.5" fill="#000"/>
<text x="348.6" y="865.4" font-size="38" fill="#000" stroke="#000" stroke-width="0.6" class="lr" textLength="60.8" lengthAdjust="spacing">108</text>
<text x="348.6" y="898.3" font-size="38" fill="#000" stroke="#000" stroke-width="0.6" class="lr" textLength="60.8" lengthAdjust="spacing">104</text>
<rect x="697.5" y="966.4" width="26.0" height="96.2" rx="0" stroke="#000" stroke-width="2" fill="none" />
<rect x="700.0" y="976.1" width="12.8" height="80.6" rx="0" stroke="#000" stroke-width="2" fill="none" />
<line x1="745.3" y1="935.0" x2="745.3" y2="978.0" stroke="#000" stroke-width="2.8" />
<line x1="745.3" y1="1058.0" x2="745.3" y2="1105.0" stroke="#000" stroke-width="2.8" />
<polygon points="745.3,910.4 734.3,939.9 756.3,939.9" fill="#000"/>
<polygon points="745.3,1127.5 734.3,1102.5 756.3,1102.5" fill="#000"/>
<text transform="translate(757.5,1057) rotate(-90)" font-size="37" fill="#000" stroke="#000" stroke-width="0.6" class="lr" xml:space="preserve" textLength="75.5" lengthAdjust="spacing">25. 4</text>
<path d="M81.6,938.4 L81.6,951.0 L69.1,951.0 L69.1,1006.0 L81.0,1006.0 L81.0,1016.2 L116.9,1016.2 L116.9,1006.0 L130.6,1006.0 L130.6,951.0 L115.8,951.0 L115.8,938.4" stroke="#000" stroke-width="2.0" fill="none" stroke-linejoin="miter"/>
<ellipse cx="99.8" cy="977.6" rx="19.6" ry="21" fill="none" stroke="#000" stroke-width="2.7"/>
<text x="99.8" y="986.5" font-size="26.5" text-anchor="middle" fill="#000" class="lr" stroke="#000" stroke-width="0.4">2</text>
<path d="M152.9,938.4 L152.9,951.0 L141.5,951.0 L141.5,1006.0 L153.3,1006.0 L153.3,1016.2 L189.7,1016.2 L189.7,1006.0 L203.8,1006.0 L203.8,951.0 L187.0,951.0 L187.0,938.4" stroke="#000" stroke-width="2.0" fill="none" stroke-linejoin="miter"/>
<ellipse cx="172.7" cy="977.6" rx="19.6" ry="21" fill="none" stroke="#000" stroke-width="2.7"/>
<text x="172.7" y="986.5" font-size="26.5" text-anchor="middle" fill="#000" class="lr" stroke="#000" stroke-width="0.4">4</text>
<path d="M80.0,1020.8 L80.0,1030.6 L69.6,1030.6 L69.6,1083.8 L82.3,1083.8 L82.3,1095.9 L119.6,1095.9 L119.6,1083.8 L131.0,1083.8 L131.0,1030.6 L115.8,1030.6 L115.8,1020.8 Z" stroke="#000" stroke-width="2.0" fill="none" stroke-linejoin="miter"/>
<ellipse cx="101.0" cy="1056.1" rx="19.6" ry="21" fill="none" stroke="#000" stroke-width="2.7"/>
<text x="101.0" y="1065.0" font-size="26.5" text-anchor="middle" fill="#000" class="lr" stroke="#000" stroke-width="0.4">1</text>
<path d="M153.8,1020.8 L153.8,1030.6 L143.0,1030.6 L143.0,1083.8 L156.7,1083.8 L156.7,1095.9 L192.0,1095.9 L192.0,1083.8 L205.2,1083.8 L205.2,1030.6 L190.2,1030.6 L190.2,1020.8 Z" stroke="#000" stroke-width="2.0" fill="none" stroke-linejoin="miter"/>
<ellipse cx="173.1" cy="1059.5" rx="19.6" ry="21" fill="none" stroke="#000" stroke-width="2.7"/>
<text x="173.1" y="1068.4" font-size="26.5" text-anchor="middle" fill="#000" class="lr" stroke="#000" stroke-width="0.4">3</text>
<path d="M566.1,938.4 L566.1,950.5 L555.4,950.5 L555.4,1004.8 L567.7,1004.8 L567.7,1014.0 L602.7,1014.0 L602.7,1004.8 L616.3,1004.8 L616.3,950.5 L602.0,950.5 L602.0,938.4" stroke="#000" stroke-width="2.0" fill="none" stroke-linejoin="miter"/>
<ellipse cx="584.0" cy="977.4" rx="19.6" ry="21" fill="none" stroke="#000" stroke-width="2.7"/>
<text x="584.0" y="986.3" font-size="26.5" text-anchor="middle" fill="#000" class="lr" stroke="#000" stroke-width="0.4">6</text>
<path d="M638.6,938.4 L638.6,951.8 L628.3,951.8 L628.3,1006.3 L639.9,1006.3 L639.9,1015.8 L675.7,1015.8 L675.7,1006.3 L689.3,1006.3 L689.3,951.8 L675.2,951.8 L675.2,938.4" stroke="#000" stroke-width="2.0" fill="none" stroke-linejoin="miter"/>
<ellipse cx="657.3" cy="978.6" rx="19.6" ry="21" fill="none" stroke="#000" stroke-width="2.7"/>
<text x="657.3" y="987.5" font-size="26.5" text-anchor="middle" fill="#000" class="lr" stroke="#000" stroke-width="0.4">8</text>
<path d="M566.9,1022.7 L566.9,1032.4 L555.9,1032.4 L555.9,1086.2 L567.7,1086.2 L567.7,1095.9 L603.5,1095.9 L603.5,1086.2 L616.8,1086.2 L616.8,1032.4 L602.7,1032.4 L602.7,1022.7 Z" stroke="#000" stroke-width="2.0" fill="none" stroke-linejoin="miter"/>
<ellipse cx="584.8" cy="1059.3" rx="19.6" ry="21" fill="none" stroke="#000" stroke-width="2.7"/>
<text x="584.8" y="1068.2" font-size="26.5" text-anchor="middle" fill="#000" class="lr" stroke="#000" stroke-width="0.4">5</text>
<path d="M638.6,1023.5 L638.6,1032.9 L629.1,1032.9 L629.1,1086.7 L641.1,1086.7 L641.1,1097.0 L678.3,1097.0 L678.3,1086.7 L690.6,1086.7 L690.6,1032.9 L675.2,1032.9 L675.2,1023.5 Z" stroke="#000" stroke-width="2.0" fill="none" stroke-linejoin="miter"/>
<ellipse cx="659.1" cy="1059.3" rx="19.6" ry="21" fill="none" stroke="#000" stroke-width="2.7"/>
<text x="659.1" y="1068.2" font-size="26.5" text-anchor="middle" fill="#000" class="lr" stroke="#000" stroke-width="0.4">7</text>
<path d="M59.5,1515.0 L59.5,1298.5 L138.3,1298.5 L138.3,1233.5 L202.3,1233.5 L202.3,1169.0 L553.0,1169.0 L553.0,1233.8 L610.6,1233.8 L610.6,1297.8 L686.8,1297.8 L686.8,1515.0" stroke="#000" stroke-width="2.6" fill="none" />
<path d="M58.2,1515.0 L238.2,1515.0 L238.2,1464.5 L529.7,1464.5 L529.7,1515.0 L743.3,1515.0" stroke="#000" stroke-width="2.6" fill="none" />
<rect x="107.6" y="1481.8" width="78.9" height="19.5" rx="0" stroke="#000" stroke-width="2.2" fill="none" />
<rect x="567.6" y="1476.4" width="77.9" height="19.8" rx="0" stroke="#000" stroke-width="2.2" fill="none" />
<rect x="686.8" y="1496.2" width="17.5" height="18.8" rx="0" stroke="#000" stroke-width="1.6" fill="none" />
<line x1="581.5" y1="1168.8" x2="737.4" y2="1168.8" stroke="#000" stroke-width="2.6" />
<line x1="717.0" y1="1190.0" x2="717.0" y2="1308.0" stroke="#000" stroke-width="2.6" />
<line x1="717.0" y1="1375.7" x2="717.0" y2="1492.0" stroke="#000" stroke-width="2.6" />
<polygon points="717.0,1169.0 706.0,1195.0 728.0,1195.0" fill="#000"/>
<polygon points="717.0,1515.0 706.0,1489.0 728.0,1489.0" fill="#000"/>
<text transform="translate(731.5,1363) rotate(-90)" font-size="37" fill="#000" stroke="#000" stroke-width="0.6" class="lr" textLength="41" lengthAdjust="spacing">47</text>
<line x1="262.0" y1="1494.0" x2="353.4" y2="1494.0" stroke="#000" stroke-width="2.6" />
<line x1="412.8" y1="1494.0" x2="506.0" y2="1494.0" stroke="#000" stroke-width="2.6" />
<polygon points="238.5,1494.0 265.5,1483.5 265.5,1504.5" fill="#000"/>
<polygon points="529.7,1494.0 502.7,1483.5 502.7,1504.5" fill="#000"/>
<text x="384.2" y="1506.8" font-size="32" text-anchor="middle" fill="#000" class="lr" letter-spacing="1.6" stroke="#000" stroke-width="0.9">35</text>
<rect x="19.5" y="1544.5" width="777.5" height="83.5" fill="#134f96"/>
<text x="176" y="1609.5" font-size="60.5" fill="#fff" stroke="#fff" stroke-width="1.1" font-weight="500" textLength="474" lengthAdjust="spacing">产品接线示意图</text>
<!-- wiring diagrams -->
<g transform="translate(0.0,0.0)">
<path d="M46.6,1781.5 L46.6,1765.0 L68.5,1765.0 L68.5,1787.9 L89.0,1787.9" stroke="#262626" stroke-width="1.5" fill="none" />
<path d="M46.6,1796.5 L46.6,1803.6 L89.0,1803.6" stroke="#262626" stroke-width="1.5" fill="none" />
<circle cx="46.6" cy="1786.2" r="4.7" stroke="#262626" stroke-width="1.4" fill="none" />
<circle cx="46.6" cy="1791.4" r="4.7" stroke="#262626" stroke-width="1.4" fill="none" />
<circle cx="92.6" cy="1787.9" r="3.6" stroke="#262626" stroke-width="1.4" fill="#fff" />
<circle cx="92.6" cy="1803.6" r="3.6" stroke="#262626" stroke-width="1.4" fill="#fff" />
<line x1="34.7" y1="1798.2" x2="34.7" y2="1782.0" stroke="#262626" stroke-width="1.6" />
<polygon points="34.7,1773.5 32.2,1783.5 37.2,1783.5" fill="#262626"/>
<line x1="45.5" y1="1754.4" x2="55.9" y2="1754.4" stroke="#262626" stroke-width="1.5" /><line x1="50.7" y1="1749.2" x2="50.7" y2="1759.6" stroke="#262626" stroke-width="1.5" />
<line x1="47.0" y1="1813.0" x2="57.4" y2="1813.0" stroke="#262626" stroke-width="1.5" />
<text x="84.8" y="1783.7" font-size="17" text-anchor="middle" fill="#2a2a2a" stroke="#2a2a2a" stroke-width="0.25">3</text>
<text x="84.2" y="1820.6" font-size="17" text-anchor="middle" fill="#2a2a2a" stroke="#2a2a2a" stroke-width="0.25">4</text>
<text x="43.8" y="1855.1" font-size="12.8" fill="#444" stroke="#444" stroke-width="0" class="cr" font-weight="500" textLength="44.2" lengthAdjust="spacing">电流源</text>
</g>
<g transform="translate(0.0,0.0)">
<path d="M117.7,1777.0 L117.7,1755.4 L150.1,1755.4" stroke="#262626" stroke-width="1.5" fill="none" />
<line x1="140.0" y1="1795.0" x2="150.1" y2="1795.0" stroke="#262626" stroke-width="1.5" />
<rect x="150.1" y="1755.4" width="6.8" height="39.6" rx="0" stroke="#262626" stroke-width="1.5" fill="#fff" />
<line x1="150.1" y1="1768.8" x2="156.9" y2="1768.8" stroke="#262626" stroke-width="1.2" />
<line x1="150.1" y1="1782.4" x2="156.9" y2="1782.4" stroke="#262626" stroke-width="1.2" />
<rect x="127.2" y="1789.0" width="14.2" height="9.0" rx="0" stroke="#262626" stroke-width="1.5" fill="#fff" />
<rect x="119.2" y="1796.2" width="31.0" height="43.5" rx="6.5" stroke="#262626" stroke-width="1.6" fill="#fff" />
<line x1="119.2" y1="1809.8" x2="150.2" y2="1809.8" stroke="#262626" stroke-width="1.4" />
<line x1="119.2" y1="1824.4" x2="150.2" y2="1824.4" stroke="#262626" stroke-width="1.4" />
<circle cx="133.9" cy="1774.2" r="16" stroke="#262626" stroke-width="1.7" fill="#fff" />
<circle cx="133.9" cy="1774.2" r="9.8" stroke="#262626" stroke-width="1.7" fill="#fff" />
<line x1="141.9" y1="1779.8" x2="147.0" y2="1783.4" stroke="#262626" stroke-width="1.3" />
<line x1="139.5" y1="1782.2" x2="143.1" y2="1787.3" stroke="#262626" stroke-width="1.3" />
<line x1="128.3" y1="1782.2" x2="124.7" y2="1787.3" stroke="#262626" stroke-width="1.3" />
<line x1="125.9" y1="1779.8" x2="120.8" y2="1783.4" stroke="#262626" stroke-width="1.3" />
<line x1="125.9" y1="1768.6" x2="120.8" y2="1765.0" stroke="#262626" stroke-width="1.3" />
<line x1="128.3" y1="1766.2" x2="124.7" y2="1761.1" stroke="#262626" stroke-width="1.3" />
<line x1="139.5" y1="1766.2" x2="143.1" y2="1761.1" stroke="#262626" stroke-width="1.3" />
<line x1="141.9" y1="1768.6" x2="147.0" y2="1765.0" stroke="#262626" stroke-width="1.3" />
</g>
<g transform="translate(0.0,0.0)">
<line x1="156.8" y1="1761.3" x2="215.2" y2="1761.3" stroke="#262626" stroke-width="1.5" />
<line x1="156.8" y1="1789.5" x2="215.2" y2="1789.5" stroke="#262626" stroke-width="1.5" />
<circle cx="218.7" cy="1761.3" r="3.6" stroke="#262626" stroke-width="1.4" fill="#fff" />
<circle cx="218.7" cy="1789.5" r="3.6" stroke="#262626" stroke-width="1.4" fill="#fff" />
<line x1="168.8" y1="1752.5" x2="179.2" y2="1752.5" stroke="#262626" stroke-width="1.5" /><line x1="174.0" y1="1747.3" x2="174.0" y2="1757.7" stroke="#262626" stroke-width="1.5" />
<line x1="169.8" y1="1795.2" x2="180.2" y2="1795.2" stroke="#262626" stroke-width="1.5" />
<text x="205.6" y="1758.1" font-size="17" text-anchor="middle" fill="#2a2a2a" stroke="#2a2a2a" stroke-width="0.25">2</text>
<text x="205.3" y="1807.5" font-size="17" text-anchor="middle" fill="#2a2a2a" stroke="#2a2a2a" stroke-width="0.25">3</text>
<path d="M187.0,1767.0 C171.5,1766.5 171.5,1780.0 189.5,1782.4" fill="none" stroke="#262626" stroke-width="1.4"/><polygon points="195.0,1783.0 187.7,1779.2 187.1,1785.4" fill="#262626"/>
<text x="157.7" y="1830.4" font-size="13.6" fill="#2a2a2a" stroke="#2a2a2a" stroke-width="0.25" letter-spacing="0.6" textLength="59.3" lengthAdjust="spacingAndGlyphs">4–20mA</text>
<text x="129.5" y="1856.0" font-size="12.8" fill="#444" stroke="#444" stroke-width="0" class="cr" font-weight="500" textLength="91.0" lengthAdjust="spacing">二线制变送器</text>
</g>
<g transform="translate(118.0,0.0)">
<path d="M117.7,1777.0 L117.7,1755.4 L150.1,1755.4" stroke="#262626" stroke-width="1.5" fill="none" />
<line x1="140.0" y1="1795.0" x2="150.1" y2="1795.0" stroke="#262626" stroke-width="1.5" />
<rect x="150.1" y="1755.4" width="6.8" height="39.6" rx="0" stroke="#262626" stroke-width="1.5" fill="#fff" />
<line x1="150.1" y1="1768.8" x2="156.9" y2="1768.8" stroke="#262626" stroke-width="1.2" />
<line x1="150.1" y1="1782.4" x2="156.9" y2="1782.4" stroke="#262626" stroke-width="1.2" />
<rect x="127.2" y="1789.0" width="14.2" height="9.0" rx="0" stroke="#262626" stroke-width="1.5" fill="#fff" />
<rect x="119.2" y="1796.2" width="31.0" height="43.5" rx="6.5" stroke="#262626" stroke-width="1.6" fill="#fff" />
<line x1="119.2" y1="1809.8" x2="150.2" y2="1809.8" stroke="#262626" stroke-width="1.4" />
<line x1="119.2" y1="1824.4" x2="150.2" y2="1824.4" stroke="#262626" stroke-width="1.4" />
<circle cx="133.9" cy="1774.2" r="16" stroke="#262626" stroke-width="1.7" fill="#fff" />
<circle cx="133.9" cy="1774.2" r="9.8" stroke="#262626" stroke-width="1.7" fill="#fff" />
<line x1="141.9" y1="1779.8" x2="147.0" y2="1783.4" stroke="#262626" stroke-width="1.3" />
<line x1="139.5" y1="1782.2" x2="143.1" y2="1787.3" stroke="#262626" stroke-width="1.3" />
<line x1="128.3" y1="1782.2" x2="124.7" y2="1787.3" stroke="#262626" stroke-width="1.3" />
<line x1="125.9" y1="1779.8" x2="120.8" y2="1783.4" stroke="#262626" stroke-width="1.3" />
<line x1="125.9" y1="1768.6" x2="120.8" y2="1765.0" stroke="#262626" stroke-width="1.3" />
<line x1="128.3" y1="1766.2" x2="124.7" y2="1761.1" stroke="#262626" stroke-width="1.3" />
<line x1="139.5" y1="1766.2" x2="143.1" y2="1761.1" stroke="#262626" stroke-width="1.3" />
<line x1="141.9" y1="1768.6" x2="147.0" y2="1765.0" stroke="#262626" stroke-width="1.3" />
</g>
<g transform="translate(0.0,0.0)">
<line x1="274.8" y1="1761.5" x2="330.5" y2="1761.5" stroke="#262626" stroke-width="1.5" />
<line x1="274.8" y1="1784.5" x2="330.5" y2="1784.5" stroke="#262626" stroke-width="1.5" />
<path d="M274.8,1792.5 L293.0,1792.5 L293.0,1812.0 L330.5,1812.0" stroke="#262626" stroke-width="1.5" fill="none" />
<line x1="282.4" y1="1747.0" x2="292.8" y2="1747.0" stroke="#262626" stroke-width="1.5" /><line x1="287.6" y1="1741.8" x2="287.6" y2="1752.2" stroke="#262626" stroke-width="1.5" />
<line x1="282.4" y1="1774.5" x2="292.8" y2="1774.5" stroke="#262626" stroke-width="1.5" /><line x1="287.6" y1="1769.3" x2="287.6" y2="1779.7" stroke="#262626" stroke-width="1.5" />
<line x1="279.1" y1="1801.5" x2="289.5" y2="1801.5" stroke="#262626" stroke-width="1.5" />
<path d="M313.0,1792.5 C328.5,1792.0 328.5,1805.5 310.5,1807.9" fill="none" stroke="#262626" stroke-width="1.4"/><polygon points="305.0,1808.5 312.3,1804.7 312.9,1810.9" fill="#262626"/>
<text x="273.5" y="1830.4" font-size="13.6" fill="#2a2a2a" stroke="#2a2a2a" stroke-width="0.25" letter-spacing="0.6" textLength="58.5" lengthAdjust="spacingAndGlyphs">4–20mA</text>
<text x="243.0" y="1857.2" font-size="12.8" fill="#444" stroke="#444" stroke-width="0" class="cr" font-weight="500" textLength="91.0" lengthAdjust="spacing">三线制变送器</text>
</g>
<g transform="translate(0.0,0.0)">
<rect x="643.1" y="1634.6" width="143.7" height="62.0" rx="0" stroke="#262626" stroke-width="1.5" fill="none" />
<line x1="652.4" y1="1655.0" x2="661.6" y2="1655.0" stroke="#262626" stroke-width="1.5" /><line x1="657.0" y1="1650.4" x2="657.0" y2="1659.6" stroke="#262626" stroke-width="1.5" />
<line x1="652.4" y1="1691.5" x2="661.6" y2="1691.5" stroke="#262626" stroke-width="1.5" />
<text x="684.5" y="1657.7" font-size="16.5" fill="#2a2a2a" stroke="#2a2a2a" stroke-width="0.25" textLength="66.5" lengthAdjust="spacing">POWER</text>
<text x="701.7" y="1686.3" font-size="13.4" fill="#2a2a2a" stroke="#2a2a2a" stroke-width="0.25" textLength="65.3" lengthAdjust="spacing">24V. DC.</text>
</g>
<g transform="translate(0.0,0.0)">
<path d="M413.3,1716.3 L413.3,1655.0 L643.1,1655.0" stroke="#262626" stroke-width="1.5" fill="none" />
<path d="M444.3,1716.3 L444.3,1681.5 L643.1,1681.5" stroke="#262626" stroke-width="1.5" fill="none" />
<rect x="334.1" y="1716.3" width="197.8" height="124.5" rx="0" stroke="#262626" stroke-width="1.7" fill="none" />
<path d="M334.1,1716.3 L428.0,1783.9 L531.9,1716.3" stroke="#262626" stroke-width="1.6" fill="none" />
<path d="M334.1,1722.6 L424.8,1788.6 L424.8,1840.8" stroke="#262626" stroke-width="1.6" fill="none" />
<path d="M531.9,1722.6 L432.0,1788.6 L432.0,1840.8" stroke="#262626" stroke-width="1.6" fill="none" />
<circle cx="413.3" cy="1716.3" r="3.8" stroke="#262626" stroke-width="1.4" fill="#fff" />
<circle cx="444.3" cy="1716.3" r="3.8" stroke="#262626" stroke-width="1.4" fill="#fff" />
<circle cx="334.1" cy="1761.7" r="3.8" stroke="#262626" stroke-width="1.4" fill="#fff" />
<circle cx="334.1" cy="1784.5" r="3.8" stroke="#262626" stroke-width="1.4" fill="#fff" />
<circle cx="334.1" cy="1812.0" r="3.8" stroke="#262626" stroke-width="1.4" fill="#fff" />
<circle cx="531.9" cy="1764.6" r="3.8" stroke="#262626" stroke-width="1.4" fill="#fff" />
<circle cx="531.9" cy="1793.8" r="3.8" stroke="#262626" stroke-width="1.4" fill="#fff" />
<text x="392.6" y="1739.9" font-size="17" fill="#2a2a2a" stroke="#2a2a2a" stroke-width="0.25" textLength="34.4" lengthAdjust="spacing">7(+)</text>
<text x="438.3" y="1739.9" font-size="17" fill="#2a2a2a" stroke="#2a2a2a" stroke-width="0.25" textLength="34.2" lengthAdjust="spacing">8(–)</text>
<text x="343.5" y="1771.8" font-size="17" fill="#2a2a2a" stroke="#2a2a2a" stroke-width="0.25" textLength="34.0" lengthAdjust="spacing">2(+)</text>
<text x="343.5" y="1794.7" font-size="17" fill="#2a2a2a" stroke="#2a2a2a" stroke-width="0.25" textLength="34.0" lengthAdjust="spacing">3(S)</text>
<text x="343.5" y="1820.3" font-size="17" fill="#2a2a2a" stroke="#2a2a2a" stroke-width="0.25" textLength="34.0" lengthAdjust="spacing">4(–)</text>
<text x="491.5" y="1769.6" font-size="17" fill="#2a2a2a" stroke="#2a2a2a" stroke-width="0.25" textLength="34.5" lengthAdjust="spacing">5(+)</text>
<text x="490.0" y="1798.4" font-size="17" fill="#2a2a2a" stroke="#2a2a2a" stroke-width="0.25" textLength="34.5" lengthAdjust="spacing">6(–)</text>
<text x="395.1" y="1824.2" font-size="14.5" fill="#2a2a2a" stroke="#2a2a2a" stroke-width="0.25" textLength="15.4" lengthAdjust="spacing">IN</text>
<text x="455.2" y="1829.5" font-size="14.5" fill="#2a2a2a" stroke="#2a2a2a" stroke-width="0.25" textLength="32.8" lengthAdjust="spacing">OUT</text>
<line x1="535.7" y1="1764.6" x2="644.8" y2="1764.6" stroke="#262626" stroke-width="1.5" />
<line x1="535.7" y1="1793.8" x2="644.8" y2="1793.8" stroke="#262626" stroke-width="1.5" />
<rect x="644.8" y="1719.2" width="142.5" height="124.1" rx="0" stroke="#262626" stroke-width="1.5" fill="none" />
<path d="M644.8,1764.6 L728.6,1764.6 L728.6,1794.1 L706.7,1794.1" stroke="#262626" stroke-width="1.5" fill="none" />
<line x1="644.8" y1="1794.1" x2="669.4" y2="1794.1" stroke="#262626" stroke-width="1.5" />
<rect x="669.4" y="1790.8" width="37.3" height="7.0" rx="0" stroke="#262626" stroke-width="1.3" fill="#fff" />
<text x="647.1" y="1782.9" font-size="13.6" fill="#2a2a2a" stroke="#2a2a2a" stroke-width="0.25" letter-spacing="0.6" textLength="59.9" lengthAdjust="spacingAndGlyphs">4–20mA</text>
<path d="M714.0,1770.0 C729.5,1769.5 729.5,1783.0 711.5,1785.4" fill="none" stroke="#262626" stroke-width="1.4"/><polygon points="706.0,1786.0 713.3,1782.2 713.9,1788.4" fill="#262626"/>
<text x="687.5" y="1810.8" font-size="11" text-anchor="middle" fill="#2a2a2a" stroke="#2a2a2a" stroke-width="0.25">RL</text>
<text x="698.2" y="1750.0" font-size="14" fill="#2a2a2a" stroke="#2a2a2a" stroke-width="0.25" textLength="72.8" lengthAdjust="spacing">DCS. PLC</text>
<text x="550.0" y="1812.2" font-size="13" fill="#2a2a2a" stroke="#2a2a2a" stroke-width="0.25" letter-spacing="0.6" textLength="60.0" lengthAdjust="spacingAndGlyphs">4–20mA</text>
<line x1="651.4" y1="1756.5" x2="660.6" y2="1756.5" stroke="#262626" stroke-width="1.5" /><line x1="656.0" y1="1751.9" x2="656.0" y2="1761.1" stroke="#262626" stroke-width="1.5" />
<line x1="651.4" y1="1801.8" x2="660.6" y2="1801.8" stroke="#262626" stroke-width="1.5" />
<circle cx="644.8" cy="1764.6" r="3.8" stroke="#262626" stroke-width="1.4" fill="#fff" />
<circle cx="644.8" cy="1793.8" r="3.8" stroke="#262626" stroke-width="1.4" fill="#fff" />
<circle cx="643.1" cy="1655.0" r="3.8" stroke="#262626" stroke-width="1.4" fill="#fff" />
<circle cx="643.1" cy="1681.5" r="3.8" stroke="#262626" stroke-width="1.4" fill="#fff" />
<text x="230.0" y="1905.7" font-size="27" fill="#2a2a2a" stroke="#2a2a2a" stroke-width="0.45" textLength="148.0" lengthAdjust="spacing">THT<tspan font-size="34.3">–</tspan>IP111</text>
<text x="242.0" y="1939.2" font-size="23.5" fill="#2a2a2a" stroke="#2a2a2a" stroke-width="0.2" font-weight="500" textLength="107.5" lengthAdjust="spacing">一进一出</text>
</g>
<g transform="translate(81.3,306.5)">
<path d="M46.6,1781.5 L46.6,1765.0 L68.5,1765.0 L68.5,1787.9 L89.0,1787.9" stroke="#262626" stroke-width="1.5" fill="none" />
<path d="M46.6,1796.5 L46.6,1803.6 L89.0,1803.6" stroke="#262626" stroke-width="1.5" fill="none" />
<circle cx="46.6" cy="1786.2" r="4.7" stroke="#262626" stroke-width="1.4" fill="none" />
<circle cx="46.6" cy="1791.4" r="4.7" stroke="#262626" stroke-width="1.4" fill="none" />
<circle cx="92.6" cy="1787.9" r="3.6" stroke="#262626" stroke-width="1.4" fill="#fff" />
<circle cx="92.6" cy="1803.6" r="3.6" stroke="#262626" stroke-width="1.4" fill="#fff" />
<line x1="34.7" y1="1798.2" x2="34.7" y2="1782.0" stroke="#262626" stroke-width="1.6" />
<polygon points="34.7,1773.5 32.2,1783.5 37.2,1783.5" fill="#262626"/>
<line x1="45.5" y1="1754.4" x2="55.9" y2="1754.4" stroke="#262626" stroke-width="1.5" /><line x1="50.7" y1="1749.2" x2="50.7" y2="1759.6" stroke="#262626" stroke-width="1.5" />
<line x1="47.0" y1="1813.0" x2="57.4" y2="1813.0" stroke="#262626" stroke-width="1.5" />
<text x="84.8" y="1783.7" font-size="17" text-anchor="middle" fill="#2a2a2a" stroke="#2a2a2a" stroke-width="0.25">3</text>
<text x="84.2" y="1820.6" font-size="17" text-anchor="middle" fill="#2a2a2a" stroke="#2a2a2a" stroke-width="0.25">4</text>
<text x="43.8" y="1855.1" font-size="12.8" fill="#444" stroke="#444" stroke-width="0" class="cr" font-weight="500" textLength="44.2" lengthAdjust="spacing">电流源</text>
</g>
<g transform="translate(107.0,306.7)">
<path d="M117.7,1777.0 L117.7,1755.4 L150.1,1755.4" stroke="#262626" stroke-width="1.5" fill="none" />
<line x1="140.0" y1="1795.0" x2="150.1" y2="1795.0" stroke="#262626" stroke-width="1.5" />
<rect x="150.1" y="1755.4" width="6.8" height="39.6" rx="0" stroke="#262626" stroke-width="1.5" fill="#fff" />
<line x1="150.1" y1="1768.8" x2="156.9" y2="1768.8" stroke="#262626" stroke-width="1.2" />
<line x1="150.1" y1="1782.4" x2="156.9" y2="1782.4" stroke="#262626" stroke-width="1.2" />
<rect x="127.2" y="1789.0" width="14.2" height="9.0" rx="0" stroke="#262626" stroke-width="1.5" fill="#fff" />
<rect x="119.2" y="1796.2" width="31.0" height="43.5" rx="6.5" stroke="#262626" stroke-width="1.6" fill="#fff" />
<line x1="119.2" y1="1809.8" x2="150.2" y2="1809.8" stroke="#262626" stroke-width="1.4" />
<line x1="119.2" y1="1824.4" x2="150.2" y2="1824.4" stroke="#262626" stroke-width="1.4" />
<circle cx="133.9" cy="1774.2" r="16" stroke="#262626" stroke-width="1.7" fill="#fff" />
<circle cx="133.9" cy="1774.2" r="9.8" stroke="#262626" stroke-width="1.7" fill="#fff" />
<line x1="141.9" y1="1779.8" x2="147.0" y2="1783.4" stroke="#262626" stroke-width="1.3" />
<line x1="139.5" y1="1782.2" x2="143.1" y2="1787.3" stroke="#262626" stroke-width="1.3" />
<line x1="128.3" y1="1782.2" x2="124.7" y2="1787.3" stroke="#262626" stroke-width="1.3" />
<line x1="125.9" y1="1779.8" x2="120.8" y2="1783.4" stroke="#262626" stroke-width="1.3" />
<line x1="125.9" y1="1768.6" x2="120.8" y2="1765.0" stroke="#262626" stroke-width="1.3" />
<line x1="128.3" y1="1766.2" x2="124.7" y2="1761.1" stroke="#262626" stroke-width="1.3" />
<line x1="139.5" y1="1766.2" x2="143.1" y2="1761.1" stroke="#262626" stroke-width="1.3" />
<line x1="141.9" y1="1768.6" x2="147.0" y2="1765.0" stroke="#262626" stroke-width="1.3" />
</g>
<g transform="translate(0.0,0.0)">
<line x1="263.8" y1="2067.9" x2="318.2" y2="2067.9" stroke="#262626" stroke-width="1.5" />
<line x1="263.8" y1="2096.1" x2="318.2" y2="2096.1" stroke="#262626" stroke-width="1.5" />
<line x1="272.3" y1="2053.8" x2="282.7" y2="2053.8" stroke="#262626" stroke-width="1.5" /><line x1="277.5" y1="2048.6" x2="277.5" y2="2059.0" stroke="#262626" stroke-width="1.5" />
<line x1="266.6" y1="2109.0" x2="277.0" y2="2109.0" stroke="#262626" stroke-width="1.5" />
<path d="M288.5,2074.0 C273.0,2073.5 273.0,2087.0 291.0,2089.4" fill="none" stroke="#262626" stroke-width="1.4"/><polygon points="296.5,2090.0 289.2,2086.2 288.6,2092.4" fill="#262626"/>
<text x="261.0" y="2137.2" font-size="13.6" fill="#2a2a2a" stroke="#2a2a2a" stroke-width="0.25" letter-spacing="0.6" textLength="59.3" lengthAdjust="spacingAndGlyphs">4–20mA</text>
<text x="224.0" y="2165.4" font-size="12.8" fill="#444" stroke="#444" stroke-width="0" class="cr" font-weight="500" textLength="91.3" lengthAdjust="spacing">二线制变送器</text>
</g>
<g transform="translate(0.0,0.0)">
<path d="M401.7,2021.9 L401.7,1960.3 L631.6,1960.3" stroke="#262626" stroke-width="1.5" fill="none" />
<path d="M432.1,2021.9 L432.1,1987.0 L631.6,1987.0" stroke="#262626" stroke-width="1.5" fill="none" />
<rect x="321.9" y="2021.9" width="197.2" height="160.6" rx="0" stroke="#262626" stroke-width="1.7" fill="none" />
<path d="M321.9,2021.9 L410.2,2076.7 L519.1,2021.9" stroke="#262626" stroke-width="1.6" fill="none" />
<path d="M321.9,2027.5 L407.7,2082.0 L407.7,2182.5" stroke="#262626" stroke-width="1.6" fill="none" />
<path d="M519.1,2027.5 L413.3,2082.0 L413.3,2111.1 L519.1,2111.1" stroke="#262626" stroke-width="1.6" fill="none" />
<path d="M519.1,2118.0 L413.3,2118.0 L413.3,2182.5" stroke="#262626" stroke-width="1.6" fill="none" />
<circle cx="401.7" cy="2021.9" r="3.8" stroke="#262626" stroke-width="1.4" fill="#fff" />
<circle cx="432.1" cy="2021.9" r="3.8" stroke="#262626" stroke-width="1.4" fill="#fff" />
<circle cx="321.9" cy="2067.9" r="3.8" stroke="#262626" stroke-width="1.4" fill="#fff" />
<circle cx="321.9" cy="2096.1" r="3.8" stroke="#262626" stroke-width="1.4" fill="#fff" />
<circle cx="519.1" cy="2057.9" r="3.8" stroke="#262626" stroke-width="1.4" fill="#fff" />
<circle cx="519.1" cy="2087.6" r="3.8" stroke="#262626" stroke-width="1.4" fill="#fff" />
<circle cx="519.1" cy="2137.6" r="3.8" stroke="#262626" stroke-width="1.4" fill="#fff" />
<circle cx="519.1" cy="2167.2" r="3.8" stroke="#262626" stroke-width="1.4" fill="#fff" />
<text x="380.4" y="2046.8" font-size="17" fill="#2a2a2a" stroke="#2a2a2a" stroke-width="0.25" textLength="33.6" lengthAdjust="spacing">1(+)</text>
<text x="422.7" y="2046.8" font-size="17" fill="#2a2a2a" stroke="#2a2a2a" stroke-width="0.25" textLength="34.8" lengthAdjust="spacing">2(–)</text>
<text x="330.3" y="2074.3" font-size="17" fill="#2a2a2a" stroke="#2a2a2a" stroke-width="0.25" textLength="34.2" lengthAdjust="spacing">3(+)</text>
<text x="330.3" y="2104.7" font-size="17" fill="#2a2a2a" stroke="#2a2a2a" stroke-width="0.25" textLength="34.2" lengthAdjust="spacing">4(–)</text>
<text x="476.8" y="2065.6" font-size="17" fill="#2a2a2a" stroke="#2a2a2a" stroke-width="0.25" textLength="34.7" lengthAdjust="spacing">5(+)</text>
<text x="474.3" y="2094.7" font-size="17" fill="#2a2a2a" stroke="#2a2a2a" stroke-width="0.25" textLength="34.7" lengthAdjust="spacing">6(–)</text>
<text x="471.8" y="2141.3" font-size="17" fill="#2a2a2a" stroke="#2a2a2a" stroke-width="0.25" textLength="34.2" lengthAdjust="spacing">7(+)</text>
<text x="470.6" y="2174.1" font-size="17" fill="#2a2a2a" stroke="#2a2a2a" stroke-width="0.25" textLength="34.9" lengthAdjust="spacing">8(–)</text>
<text x="418.9" y="2100.5" font-size="14" fill="#2a2a2a" stroke="#2a2a2a" stroke-width="0.25" textLength="41.6" lengthAdjust="spacing">OUT1</text>
<text x="422.7" y="2157.4" font-size="14" fill="#2a2a2a" stroke="#2a2a2a" stroke-width="0.25" textLength="42.3" lengthAdjust="spacing">OUT2</text>
<text x="353.8" y="2164.2" font-size="14.5" fill="#2a2a2a" stroke="#2a2a2a" stroke-width="0.25" textLength="15.2" lengthAdjust="spacing">IN</text>
<rect x="631.6" y="1939.9" width="143.1" height="62.2" rx="0" stroke="#262626" stroke-width="1.5" fill="none" />
<line x1="639.9" y1="1952.5" x2="649.1" y2="1952.5" stroke="#262626" stroke-width="1.5" /><line x1="644.5" y1="1947.9" x2="644.5" y2="1957.1" stroke="#262626" stroke-width="1.5" />
<line x1="639.9" y1="1993.5" x2="649.1" y2="1993.5" stroke="#262626" stroke-width="1.5" />
<text x="672.3" y="1962.1" font-size="16.5" fill="#2a2a2a" stroke="#2a2a2a" stroke-width="0.25" textLength="66.2" lengthAdjust="spacing">POWER</text>
<text x="689.7" y="1991.8" font-size="13.4" fill="#2a2a2a" stroke="#2a2a2a" stroke-width="0.25" textLength="65.3" lengthAdjust="spacing">24V. DC.</text>
<circle cx="631.6" cy="1960.3" r="3.8" stroke="#262626" stroke-width="1.4" fill="#fff" />
<circle cx="631.6" cy="1987.0" r="3.8" stroke="#262626" stroke-width="1.4" fill="#fff" />
<line x1="522.9" y1="2057.9" x2="632.7" y2="2057.9" stroke="#262626" stroke-width="1.5" />
<line x1="522.9" y1="2087.6" x2="632.7" y2="2087.6" stroke="#262626" stroke-width="1.5" />
<line x1="522.9" y1="2137.6" x2="632.7" y2="2137.6" stroke="#262626" stroke-width="1.5" />
<line x1="522.9" y1="2167.2" x2="632.7" y2="2167.2" stroke="#262626" stroke-width="1.5" />
<rect x="632.7" y="2036.5" width="142.6" height="161.1" rx="0" stroke="#262626" stroke-width="1.5" fill="none" />
<text x="700.8" y="2054.3" font-size="14" fill="#2a2a2a" stroke="#2a2a2a" stroke-width="0.25" textLength="72.2" lengthAdjust="spacing">DCS. PLC</text>
<path d="M632.7,2057.9 L717.0,2057.9 L717.0,2087.6 L693.8,2087.6" stroke="#262626" stroke-width="1.5" fill="none" />
<line x1="632.7" y1="2087.6" x2="659.0" y2="2087.6" stroke="#262626" stroke-width="1.5" />
<rect x="659.0" y="2084.2" width="34.8" height="6.8" rx="0" stroke="#262626" stroke-width="1.3" fill="#fff" />
<text x="635.6" y="2077.1" font-size="13.6" fill="#2a2a2a" stroke="#2a2a2a" stroke-width="0.25" letter-spacing="0.6" textLength="58.4" lengthAdjust="spacingAndGlyphs">4–20mA</text>
<path d="M702.0,2064.2 C717.5,2063.7 717.5,2077.2 699.5,2079.6" fill="none" stroke="#262626" stroke-width="1.4"/><polygon points="694.0,2080.2 701.3,2076.4 701.9,2082.6" fill="#262626"/>
<text x="707.0" y="2100.6" font-size="11" text-anchor="middle" fill="#2a2a2a" stroke="#2a2a2a" stroke-width="0.25">RL</text>
<line x1="638.4" y1="2049.9" x2="647.6" y2="2049.9" stroke="#262626" stroke-width="1.5" /><line x1="643.0" y1="2045.3" x2="643.0" y2="2054.5" stroke="#262626" stroke-width="1.5" />
<line x1="638.4" y1="2096.6" x2="647.6" y2="2096.6" stroke="#262626" stroke-width="1.5" />
<path d="M632.7,2137.6 L717.0,2137.6 L717.0,2167.2 L693.8,2167.2" stroke="#262626" stroke-width="1.5" fill="none" />
<line x1="632.7" y1="2167.2" x2="659.0" y2="2167.2" stroke="#262626" stroke-width="1.5" />
<rect x="659.0" y="2163.8" width="34.8" height="6.8" rx="0" stroke="#262626" stroke-width="1.3" fill="#fff" />
<text x="635.6" y="2156.8" font-size="13.6" fill="#2a2a2a" stroke="#2a2a2a" stroke-width="0.25" letter-spacing="0.6" textLength="58.4" lengthAdjust="spacingAndGlyphs">4–20mA</text>
<path d="M702.0,2143.9 C717.5,2143.4 717.5,2156.9 699.5,2159.3" fill="none" stroke="#262626" stroke-width="1.4"/><polygon points="694.0,2159.9 701.3,2156.1 701.9,2162.3" fill="#262626"/>
<text x="707.0" y="2180.2" font-size="11" text-anchor="middle" fill="#2a2a2a" stroke="#2a2a2a" stroke-width="0.25">RL</text>
<line x1="638.4" y1="2129.6" x2="647.6" y2="2129.6" stroke="#262626" stroke-width="1.5" /><line x1="643.0" y1="2125.0" x2="643.0" y2="2134.2" stroke="#262626" stroke-width="1.5" />
<line x1="638.4" y1="2176.2" x2="647.6" y2="2176.2" stroke="#262626" stroke-width="1.5" />
<text x="557.2" y="2077.9" font-size="14.2" fill="#2a2a2a" stroke="#2a2a2a" stroke-width="0.25" textLength="43.3" lengthAdjust="spacing">通道1</text>
<text x="555.3" y="2158.3" font-size="14.2" fill="#2a2a2a" stroke="#2a2a2a" stroke-width="0.25" textLength="44.2" lengthAdjust="spacing">通道 2</text>
<circle cx="632.7" cy="2057.9" r="3.8" stroke="#262626" stroke-width="1.4" fill="#fff" />
<circle cx="632.7" cy="2087.6" r="3.8" stroke="#262626" stroke-width="1.4" fill="#fff" />
<circle cx="632.7" cy="2137.6" r="3.8" stroke="#262626" stroke-width="1.4" fill="#fff" />
<circle cx="632.7" cy="2167.2" r="3.8" stroke="#262626" stroke-width="1.4" fill="#fff" />
<text x="296.3" y="2228.5" font-size="27" fill="#2a2a2a" stroke="#2a2a2a" stroke-width="0.45" textLength="149.4" lengthAdjust="spacing">THT<tspan font-size="34.3">–</tspan>IP211</text>
<text x="316.2" y="2258.7" font-size="23.5" fill="#2a2a2a" stroke="#2a2a2a" stroke-width="0.2" font-weight="500" textLength="107.8" lengthAdjust="spacing">一进二出</text>
</g>
<g transform="translate(3.3,638.4)">
<path d="M46.6,1781.5 L46.6,1765.0 L68.5,1765.0 L68.5,1787.9 L89.0,1787.9" stroke="#262626" stroke-width="1.5" fill="none" />
<path d="M46.6,1796.5 L46.6,1803.6 L89.0,1803.6" stroke="#262626" stroke-width="1.5" fill="none" />
<circle cx="46.6" cy="1786.2" r="4.7" stroke="#262626" stroke-width="1.4" fill="none" />
<circle cx="46.6" cy="1791.4" r="4.7" stroke="#262626" stroke-width="1.4" fill="none" />
<circle cx="92.6" cy="1787.9" r="3.6" stroke="#262626" stroke-width="1.4" fill="#fff" />
<circle cx="92.6" cy="1803.6" r="3.6" stroke="#262626" stroke-width="1.4" fill="#fff" />
<line x1="34.7" y1="1798.2" x2="34.7" y2="1782.0" stroke="#262626" stroke-width="1.6" />
<polygon points="34.7,1773.5 32.2,1783.5 37.2,1783.5" fill="#262626"/>
<line x1="45.5" y1="1754.4" x2="55.9" y2="1754.4" stroke="#262626" stroke-width="1.5" /><line x1="50.7" y1="1749.2" x2="50.7" y2="1759.6" stroke="#262626" stroke-width="1.5" />
<line x1="47.0" y1="1813.0" x2="57.4" y2="1813.0" stroke="#262626" stroke-width="1.5" />
<text x="84.8" y="1783.7" font-size="17" text-anchor="middle" fill="#2a2a2a" stroke="#2a2a2a" stroke-width="0.25">3</text>
<text x="84.2" y="1820.6" font-size="17" text-anchor="middle" fill="#2a2a2a" stroke="#2a2a2a" stroke-width="0.25">4</text>
<text x="43.8" y="1855.1" font-size="12.8" fill="#444" stroke="#444" stroke-width="0" class="cr" font-weight="500" textLength="44.2" lengthAdjust="spacing">电流源</text>
</g>
<g transform="translate(3.3,638.4)">
<path d="M117.7,1777.0 L117.7,1755.4 L150.1,1755.4" stroke="#262626" stroke-width="1.5" fill="none" />
<line x1="140.0" y1="1795.0" x2="150.1" y2="1795.0" stroke="#262626" stroke-width="1.5" />
<rect x="150.1" y="1755.4" width="6.8" height="39.6" rx="0" stroke="#262626" stroke-width="1.5" fill="#fff" />
<line x1="150.1" y1="1768.8" x2="156.9" y2="1768.8" stroke="#262626" stroke-width="1.2" />
<line x1="150.1" y1="1782.4" x2="156.9" y2="1782.4" stroke="#262626" stroke-width="1.2" />
<rect x="127.2" y="1789.0" width="14.2" height="9.0" rx="0" stroke="#262626" stroke-width="1.5" fill="#fff" />
<rect x="119.2" y="1796.2" width="31.0" height="43.5" rx="6.5" stroke="#262626" stroke-width="1.6" fill="#fff" />
<line x1="119.2" y1="1809.8" x2="150.2" y2="1809.8" stroke="#262626" stroke-width="1.4" />
<line x1="119.2" y1="1824.4" x2="150.2" y2="1824.4" stroke="#262626" stroke-width="1.4" />
<circle cx="133.9" cy="1774.2" r="16" stroke="#262626" stroke-width="1.7" fill="#fff" />
<circle cx="133.9" cy="1774.2" r="9.8" stroke="#262626" stroke-width="1.7" fill="#fff" />
<line x1="141.9" y1="1779.8" x2="147.0" y2="1783.4" stroke="#262626" stroke-width="1.3" />
<line x1="139.5" y1="1782.2" x2="143.1" y2="1787.3" stroke="#262626" stroke-width="1.3" />
<line x1="128.3" y1="1782.2" x2="124.7" y2="1787.3" stroke="#262626" stroke-width="1.3" />
<line x1="125.9" y1="1779.8" x2="120.8" y2="1783.4" stroke="#262626" stroke-width="1.3" />
<line x1="125.9" y1="1768.6" x2="120.8" y2="1765.0" stroke="#262626" stroke-width="1.3" />
<line x1="128.3" y1="1766.2" x2="124.7" y2="1761.1" stroke="#262626" stroke-width="1.3" />
<line x1="139.5" y1="1766.2" x2="143.1" y2="1761.1" stroke="#262626" stroke-width="1.3" />
<line x1="141.9" y1="1768.6" x2="147.0" y2="1765.0" stroke="#262626" stroke-width="1.3" />
</g>
<g transform="translate(3.3,638.4)">
<line x1="156.8" y1="1761.3" x2="215.2" y2="1761.3" stroke="#262626" stroke-width="1.5" />
<line x1="156.8" y1="1789.5" x2="215.2" y2="1789.5" stroke="#262626" stroke-width="1.5" />
<circle cx="218.7" cy="1761.3" r="3.6" stroke="#262626" stroke-width="1.4" fill="#fff" />
<circle cx="218.7" cy="1789.5" r="3.6" stroke="#262626" stroke-width="1.4" fill="#fff" />
<line x1="168.8" y1="1752.5" x2="179.2" y2="1752.5" stroke="#262626" stroke-width="1.5" /><line x1="174.0" y1="1747.3" x2="174.0" y2="1757.7" stroke="#262626" stroke-width="1.5" />
<line x1="169.8" y1="1795.2" x2="180.2" y2="1795.2" stroke="#262626" stroke-width="1.5" />
<text x="205.6" y="1758.1" font-size="17" text-anchor="middle" fill="#2a2a2a" stroke="#2a2a2a" stroke-width="0.25">2</text>
<text x="205.3" y="1807.5" font-size="17" text-anchor="middle" fill="#2a2a2a" stroke="#2a2a2a" stroke-width="0.25">3</text>
<path d="M187.0,1767.0 C171.5,1766.5 171.5,1780.0 189.5,1782.4" fill="none" stroke="#262626" stroke-width="1.4"/><polygon points="195.0,1783.0 187.7,1779.2 187.1,1785.4" fill="#262626"/>
<text x="157.7" y="1830.4" font-size="13.6" fill="#2a2a2a" stroke="#2a2a2a" stroke-width="0.25" letter-spacing="0.6" textLength="59.3" lengthAdjust="spacingAndGlyphs">4–20mA</text>
<text x="129.5" y="1856.0" font-size="12.8" fill="#444" stroke="#444" stroke-width="0" class="cr" font-weight="500" textLength="91.0" lengthAdjust="spacing">二线制变送器</text>
</g>
<g transform="translate(121.3,638.4)">
<path d="M117.7,1777.0 L117.7,1755.4 L150.1,1755.4" stroke="#262626" stroke-width="1.5" fill="none" />
<line x1="140.0" y1="1795.0" x2="150.1" y2="1795.0" stroke="#262626" stroke-width="1.5" />
<rect x="150.1" y="1755.4" width="6.8" height="39.6" rx="0" stroke="#262626" stroke-width="1.5" fill="#fff" />
<line x1="150.1" y1="1768.8" x2="156.9" y2="1768.8" stroke="#262626" stroke-width="1.2" />
<line x1="150.1" y1="1782.4" x2="156.9" y2="1782.4" stroke="#262626" stroke-width="1.2" />
<rect x="127.2" y="1789.0" width="14.2" height="9.0" rx="0" stroke="#262626" stroke-width="1.5" fill="#fff" />
<rect x="119.2" y="1796.2" width="31.0" height="43.5" rx="6.5" stroke="#262626" stroke-width="1.6" fill="#fff" />
<line x1="119.2" y1="1809.8" x2="150.2" y2="1809.8" stroke="#262626" stroke-width="1.4" />
<line x1="119.2" y1="1824.4" x2="150.2" y2="1824.4" stroke="#262626" stroke-width="1.4" />
<circle cx="133.9" cy="1774.2" r="16" stroke="#262626" stroke-width="1.7" fill="#fff" />
<circle cx="133.9" cy="1774.2" r="9.8" stroke="#262626" stroke-width="1.7" fill="#fff" />
<line x1="141.9" y1="1779.8" x2="147.0" y2="1783.4" stroke="#262626" stroke-width="1.3" />
<line x1="139.5" y1="1782.2" x2="143.1" y2="1787.3" stroke="#262626" stroke-width="1.3" />
<line x1="128.3" y1="1782.2" x2="124.7" y2="1787.3" stroke="#262626" stroke-width="1.3" />
<line x1="125.9" y1="1779.8" x2="120.8" y2="1783.4" stroke="#262626" stroke-width="1.3" />
<line x1="125.9" y1="1768.6" x2="120.8" y2="1765.0" stroke="#262626" stroke-width="1.3" />
<line x1="128.3" y1="1766.2" x2="124.7" y2="1761.1" stroke="#262626" stroke-width="1.3" />
<line x1="139.5" y1="1766.2" x2="143.1" y2="1761.1" stroke="#262626" stroke-width="1.3" />
<line x1="141.9" y1="1768.6" x2="147.0" y2="1765.0" stroke="#262626" stroke-width="1.3" />
</g>
<g transform="translate(3.3,638.4)">
<line x1="274.8" y1="1761.5" x2="330.5" y2="1761.5" stroke="#262626" stroke-width="1.5" />
<line x1="274.8" y1="1784.5" x2="330.5" y2="1784.5" stroke="#262626" stroke-width="1.5" />
<path d="M274.8,1792.5 L293.0,1792.5 L293.0,1812.0 L330.5,1812.0" stroke="#262626" stroke-width="1.5" fill="none" />
<line x1="282.4" y1="1747.0" x2="292.8" y2="1747.0" stroke="#262626" stroke-width="1.5" /><line x1="287.6" y1="1741.8" x2="287.6" y2="1752.2" stroke="#262626" stroke-width="1.5" />
<line x1="282.4" y1="1774.5" x2="292.8" y2="1774.5" stroke="#262626" stroke-width="1.5" /><line x1="287.6" y1="1769.3" x2="287.6" y2="1779.7" stroke="#262626" stroke-width="1.5" />
<line x1="279.1" y1="1801.5" x2="289.5" y2="1801.5" stroke="#262626" stroke-width="1.5" />
<path d="M313.0,1792.5 C328.5,1792.0 328.5,1805.5 310.5,1807.9" fill="none" stroke="#262626" stroke-width="1.4"/><polygon points="305.0,1808.5 312.3,1804.7 312.9,1810.9" fill="#262626"/>
<text x="273.5" y="1830.4" font-size="13.6" fill="#2a2a2a" stroke="#2a2a2a" stroke-width="0.25" letter-spacing="0.6" textLength="58.5" lengthAdjust="spacingAndGlyphs">4–20mA</text>
<text x="243.0" y="1857.2" font-size="12.8" fill="#444" stroke="#444" stroke-width="0" class="cr" font-weight="500" textLength="91.0" lengthAdjust="spacing">三线制变送器</text>
</g>
<g transform="translate(3.3,638.4)">
<rect x="643.1" y="1634.6" width="143.7" height="62.0" rx="0" stroke="#262626" stroke-width="1.5" fill="none" />
<line x1="652.4" y1="1646.8" x2="661.6" y2="1646.8" stroke="#262626" stroke-width="1.5" /><line x1="657.0" y1="1642.2" x2="657.0" y2="1651.4" stroke="#262626" stroke-width="1.5" />
<line x1="652.4" y1="1691.5" x2="661.6" y2="1691.5" stroke="#262626" stroke-width="1.5" />
<text x="684.5" y="1657.7" font-size="16.5" fill="#2a2a2a" stroke="#2a2a2a" stroke-width="0.25" textLength="66.5" lengthAdjust="spacing">POWER</text>
<text x="686.4" y="1686.3" font-size="13.4" fill="#2a2a2a" stroke="#2a2a2a" stroke-width="0.25" textLength="64.6" lengthAdjust="spacing">24V. DC.</text>
</g>
<g transform="translate(3.3,638.4)">
<path d="M413.3,1716.3 L413.3,1655.0 L643.1,1655.0" stroke="#262626" stroke-width="1.5" fill="none" />
<path d="M444.3,1716.3 L444.3,1681.5 L643.1,1681.5" stroke="#262626" stroke-width="1.5" fill="none" />
<rect x="334.1" y="1716.3" width="197.8" height="124.5" rx="0" stroke="#262626" stroke-width="1.7" fill="none" />
<path d="M334.1,1716.3 L428.0,1783.9 L531.9,1716.3" stroke="#262626" stroke-width="1.6" fill="none" />
<path d="M334.1,1722.6 L424.8,1788.6 L424.8,1840.8" stroke="#262626" stroke-width="1.6" fill="none" />
<path d="M531.9,1722.6 L432.0,1788.6 L432.0,1840.8" stroke="#262626" stroke-width="1.6" fill="none" />
<circle cx="413.3" cy="1716.3" r="3.8" stroke="#262626" stroke-width="1.4" fill="#fff" />
<circle cx="444.3" cy="1716.3" r="3.8" stroke="#262626" stroke-width="1.4" fill="#fff" />
<circle cx="334.1" cy="1761.7" r="3.8" stroke="#262626" stroke-width="1.4" fill="#fff" />
<circle cx="334.1" cy="1784.5" r="3.8" stroke="#262626" stroke-width="1.4" fill="#fff" />
<circle cx="334.1" cy="1812.0" r="3.8" stroke="#262626" stroke-width="1.4" fill="#fff" />
<circle cx="531.9" cy="1764.6" r="3.8" stroke="#262626" stroke-width="1.4" fill="#fff" />
<circle cx="531.9" cy="1793.8" r="3.8" stroke="#262626" stroke-width="1.4" fill="#fff" />
<text x="392.6" y="1739.9" font-size="17" fill="#2a2a2a" stroke="#2a2a2a" stroke-width="0.25" textLength="34.4" lengthAdjust="spacing">7(+)</text>
<text x="438.3" y="1739.9" font-size="17" fill="#2a2a2a" stroke="#2a2a2a" stroke-width="0.25" textLength="34.2" lengthAdjust="spacing">8(–)</text>
<text x="343.5" y="1771.8" font-size="17" fill="#2a2a2a" stroke="#2a2a2a" stroke-width="0.25" textLength="34.0" lengthAdjust="spacing">2(+)</text>
<text x="343.5" y="1794.7" font-size="17" fill="#2a2a2a" stroke="#2a2a2a" stroke-width="0.25" textLength="34.0" lengthAdjust="spacing">3(S)</text>
<text x="343.5" y="1820.3" font-size="17" fill="#2a2a2a" stroke="#2a2a2a" stroke-width="0.25" textLength="34.0" lengthAdjust="spacing">4(–)</text>
<text x="491.5" y="1769.6" font-size="17" fill="#2a2a2a" stroke="#2a2a2a" stroke-width="0.25" textLength="34.5" lengthAdjust="spacing">5(+)</text>
<text x="490.0" y="1798.4" font-size="17" fill="#2a2a2a" stroke="#2a2a2a" stroke-width="0.25" textLength="34.5" lengthAdjust="spacing">6(–)</text>
<text x="395.1" y="1824.2" font-size="14.5" fill="#2a2a2a" stroke="#2a2a2a" stroke-width="0.25" textLength="15.4" lengthAdjust="spacing">IN</text>
<text x="455.2" y="1829.5" font-size="14.5" fill="#2a2a2a" stroke="#2a2a2a" stroke-width="0.25" textLength="32.8" lengthAdjust="spacing">OUT</text>
<line x1="535.7" y1="1764.6" x2="644.8" y2="1764.6" stroke="#262626" stroke-width="1.5" />
<line x1="535.7" y1="1793.8" x2="644.8" y2="1793.8" stroke="#262626" stroke-width="1.5" />
<rect x="645.2" y="1719.2" width="142.0" height="124.0" rx="0" stroke="#262626" stroke-width="1.5" fill="none" />
<text x="684.5" y="1781.7" font-size="13" fill="#2a2a2a" stroke="#2a2a2a" stroke-width="0.25" textLength="73.0" lengthAdjust="spacing">DCS. PLC</text>
<text x="564.0" y="1817.0" font-size="12.5" fill="#2a2a2a" stroke="#2a2a2a" stroke-width="0.25" textLength="38.0" lengthAdjust="spacing">0–5V</text>
<line x1="651.1" y1="1755.5" x2="660.3" y2="1755.5" stroke="#262626" stroke-width="1.5" /><line x1="655.7" y1="1750.9" x2="655.7" y2="1760.1" stroke="#262626" stroke-width="1.5" />
<line x1="651.1" y1="1802.0" x2="660.3" y2="1802.0" stroke="#262626" stroke-width="1.5" />
<circle cx="644.8" cy="1764.6" r="3.8" stroke="#262626" stroke-width="1.4" fill="#fff" />
<circle cx="644.8" cy="1793.8" r="3.8" stroke="#262626" stroke-width="1.4" fill="#fff" />
<circle cx="643.1" cy="1655.0" r="3.8" stroke="#262626" stroke-width="1.4" fill="#fff" />
<circle cx="643.1" cy="1681.5" r="3.8" stroke="#262626" stroke-width="1.4" fill="#fff" />
<text x="267.0" y="1905.7" font-size="27" fill="#2a2a2a" stroke="#2a2a2a" stroke-width="0.45" textLength="147.7" lengthAdjust="spacing">THT<tspan font-size="34.3">–</tspan>IP114</text>
<text x="221.0" y="1939.2" font-size="23.5" fill="#2a2a2a" stroke="#2a2a2a" stroke-width="0.2" font-weight="500" textLength="252.5" lengthAdjust="spacing">一进一出,电压输出型</text>
</g>
<g transform="translate(55.9,969.9)">
<path d="M46.6,1781.5 L46.6,1765.0 L68.5,1765.0 L68.5,1787.9 L89.0,1787.9" stroke="#262626" stroke-width="1.5" fill="none" />
<path d="M46.6,1796.5 L46.6,1803.6 L89.0,1803.6" stroke="#262626" stroke-width="1.5" fill="none" />
<circle cx="46.6" cy="1786.2" r="4.7" stroke="#262626" stroke-width="1.4" fill="none" />
<circle cx="46.6" cy="1791.4" r="4.7" stroke="#262626" stroke-width="1.4" fill="none" />
<circle cx="92.6" cy="1787.9" r="3.6" stroke="#262626" stroke-width="1.4" fill="#fff" />
<circle cx="92.6" cy="1803.6" r="3.6" stroke="#262626" stroke-width="1.4" fill="#fff" />
<line x1="34.7" y1="1798.2" x2="34.7" y2="1782.0" stroke="#262626" stroke-width="1.6" />
<polygon points="34.7,1773.5 32.2,1783.5 37.2,1783.5" fill="#262626"/>
<line x1="45.5" y1="1754.4" x2="55.9" y2="1754.4" stroke="#262626" stroke-width="1.5" /><line x1="50.7" y1="1749.2" x2="50.7" y2="1759.6" stroke="#262626" stroke-width="1.5" />
<line x1="47.0" y1="1813.0" x2="57.4" y2="1813.0" stroke="#262626" stroke-width="1.5" />
<text x="84.8" y="1783.7" font-size="17" text-anchor="middle" fill="#2a2a2a" stroke="#2a2a2a" stroke-width="0.25">3</text>
<text x="84.2" y="1820.6" font-size="17" text-anchor="middle" fill="#2a2a2a" stroke="#2a2a2a" stroke-width="0.25">4</text>
<text x="43.8" y="1855.1" font-size="12.8" fill="#444" stroke="#444" stroke-width="0" class="cr" font-weight="500" textLength="44.2" lengthAdjust="spacing">电流源</text>
</g>
<g transform="translate(81.6,970.1)">
<path d="M117.7,1777.0 L117.7,1755.4 L150.1,1755.4" stroke="#262626" stroke-width="1.5" fill="none" />
<line x1="140.0" y1="1795.0" x2="150.1" y2="1795.0" stroke="#262626" stroke-width="1.5" />
<rect x="150.1" y="1755.4" width="6.8" height="39.6" rx="0" stroke="#262626" stroke-width="1.5" fill="#fff" />
<line x1="150.1" y1="1768.8" x2="156.9" y2="1768.8" stroke="#262626" stroke-width="1.2" />
<line x1="150.1" y1="1782.4" x2="156.9" y2="1782.4" stroke="#262626" stroke-width="1.2" />
<rect x="127.2" y="1789.0" width="14.2" height="9.0" rx="0" stroke="#262626" stroke-width="1.5" fill="#fff" />
<rect x="119.2" y="1796.2" width="31.0" height="43.5" rx="6.5" stroke="#262626" stroke-width="1.6" fill="#fff" />
<line x1="119.2" y1="1809.8" x2="150.2" y2="1809.8" stroke="#262626" stroke-width="1.4" />
<line x1="119.2" y1="1824.4" x2="150.2" y2="1824.4" stroke="#262626" stroke-width="1.4" />
<circle cx="133.9" cy="1774.2" r="16" stroke="#262626" stroke-width="1.7" fill="#fff" />
<circle cx="133.9" cy="1774.2" r="9.8" stroke="#262626" stroke-width="1.7" fill="#fff" />
<line x1="141.9" y1="1779.8" x2="147.0" y2="1783.4" stroke="#262626" stroke-width="1.3" />
<line x1="139.5" y1="1782.2" x2="143.1" y2="1787.3" stroke="#262626" stroke-width="1.3" />
<line x1="128.3" y1="1782.2" x2="124.7" y2="1787.3" stroke="#262626" stroke-width="1.3" />
<line x1="125.9" y1="1779.8" x2="120.8" y2="1783.4" stroke="#262626" stroke-width="1.3" />
<line x1="125.9" y1="1768.6" x2="120.8" y2="1765.0" stroke="#262626" stroke-width="1.3" />
<line x1="128.3" y1="1766.2" x2="124.7" y2="1761.1" stroke="#262626" stroke-width="1.3" />
<line x1="139.5" y1="1766.2" x2="143.1" y2="1761.1" stroke="#262626" stroke-width="1.3" />
<line x1="141.9" y1="1768.6" x2="147.0" y2="1765.0" stroke="#262626" stroke-width="1.3" />
</g>
<g transform="translate(-25.4,663.4)">
<line x1="263.8" y1="2067.9" x2="318.2" y2="2067.9" stroke="#262626" stroke-width="1.5" />
<line x1="263.8" y1="2096.1" x2="318.2" y2="2096.1" stroke="#262626" stroke-width="1.5" />
<line x1="272.3" y1="2053.8" x2="282.7" y2="2053.8" stroke="#262626" stroke-width="1.5" /><line x1="277.5" y1="2048.6" x2="277.5" y2="2059.0" stroke="#262626" stroke-width="1.5" />
<line x1="266.6" y1="2109.0" x2="277.0" y2="2109.0" stroke="#262626" stroke-width="1.5" />
<path d="M288.5,2074.0 C273.0,2073.5 273.0,2087.0 291.0,2089.4" fill="none" stroke="#262626" stroke-width="1.4"/><polygon points="296.5,2090.0 289.2,2086.2 288.6,2092.4" fill="#262626"/>
<text x="261.0" y="2137.2" font-size="13.6" fill="#2a2a2a" stroke="#2a2a2a" stroke-width="0.25" letter-spacing="0.6" textLength="59.3" lengthAdjust="spacingAndGlyphs">4–20mA</text>
<text x="224.0" y="2165.4" font-size="12.8" fill="#444" stroke="#444" stroke-width="0" class="cr" font-weight="500" textLength="91.3" lengthAdjust="spacing">二线制变送器</text>
</g>
<g transform="translate(-25.4,663.4)">
<path d="M401.7,2021.9 L401.7,1960.3 L631.6,1960.3" stroke="#262626" stroke-width="1.5" fill="none" />
<path d="M432.1,2021.9 L432.1,1987.0 L631.6,1987.0" stroke="#262626" stroke-width="1.5" fill="none" />
<rect x="321.9" y="2021.9" width="197.2" height="160.6" rx="0" stroke="#262626" stroke-width="1.7" fill="none" />
<path d="M321.9,2021.9 L410.2,2076.7 L519.1,2021.9" stroke="#262626" stroke-width="1.6" fill="none" />
<path d="M321.9,2027.5 L407.7,2082.0 L407.7,2182.5" stroke="#262626" stroke-width="1.6" fill="none" />
<path d="M519.1,2027.5 L413.3,2082.0 L413.3,2111.1 L519.1,2111.1" stroke="#262626" stroke-width="1.6" fill="none" />
<path d="M519.1,2118.0 L413.3,2118.0 L413.3,2182.5" stroke="#262626" stroke-width="1.6" fill="none" />
<circle cx="401.7" cy="2021.9" r="3.8" stroke="#262626" stroke-width="1.4" fill="#fff" />
<circle cx="432.1" cy="2021.9" r="3.8" stroke="#262626" stroke-width="1.4" fill="#fff" />
<circle cx="321.9" cy="2067.9" r="3.8" stroke="#262626" stroke-width="1.4" fill="#fff" />
<circle cx="321.9" cy="2096.1" r="3.8" stroke="#262626" stroke-width="1.4" fill="#fff" />
<circle cx="519.1" cy="2057.9" r="3.8" stroke="#262626" stroke-width="1.4" fill="#fff" />
<circle cx="519.1" cy="2087.6" r="3.8" stroke="#262626" stroke-width="1.4" fill="#fff" />
<circle cx="519.1" cy="2137.6" r="3.8" stroke="#262626" stroke-width="1.4" fill="#fff" />
<circle cx="519.1" cy="2167.2" r="3.8" stroke="#262626" stroke-width="1.4" fill="#fff" />
<text x="380.4" y="2046.8" font-size="17" fill="#2a2a2a" stroke="#2a2a2a" stroke-width="0.25" textLength="33.6" lengthAdjust="spacing">1(+)</text>
<text x="422.7" y="2046.8" font-size="17" fill="#2a2a2a" stroke="#2a2a2a" stroke-width="0.25" textLength="34.8" lengthAdjust="spacing">2(–)</text>
<text x="330.3" y="2074.3" font-size="17" fill="#2a2a2a" stroke="#2a2a2a" stroke-width="0.25" textLength="34.2" lengthAdjust="spacing">3(+)</text>
<text x="330.3" y="2104.7" font-size="17" fill="#2a2a2a" stroke="#2a2a2a" stroke-width="0.25" textLength="34.2" lengthAdjust="spacing">4(–)</text>
<text x="476.8" y="2065.6" font-size="17" fill="#2a2a2a" stroke="#2a2a2a" stroke-width="0.25" textLength="34.7" lengthAdjust="spacing">5(+)</text>
<text x="474.3" y="2094.7" font-size="17" fill="#2a2a2a" stroke="#2a2a2a" stroke-width="0.25" textLength="34.7" lengthAdjust="spacing">6(–)</text>
<text x="471.8" y="2141.3" font-size="17" fill="#2a2a2a" stroke="#2a2a2a" stroke-width="0.25" textLength="34.2" lengthAdjust="spacing">7(+)</text>
<text x="470.6" y="2174.1" font-size="17" fill="#2a2a2a" stroke="#2a2a2a" stroke-width="0.25" textLength="34.9" lengthAdjust="spacing">8(–)</text>
<text x="418.9" y="2100.5" font-size="14" fill="#2a2a2a" stroke="#2a2a2a" stroke-width="0.25" textLength="41.6" lengthAdjust="spacing">OUT1</text>
<text x="422.7" y="2157.4" font-size="14" fill="#2a2a2a" stroke="#2a2a2a" stroke-width="0.25" textLength="42.3" lengthAdjust="spacing">OUT2</text>
<text x="353.8" y="2164.2" font-size="14.5" fill="#2a2a2a" stroke="#2a2a2a" stroke-width="0.25" textLength="15.2" lengthAdjust="spacing">IN</text>
<rect x="631.6" y="1939.9" width="143.1" height="62.2" rx="0" stroke="#262626" stroke-width="1.5" fill="none" />
<line x1="639.9" y1="1952.5" x2="649.1" y2="1952.5" stroke="#262626" stroke-width="1.5" /><line x1="644.5" y1="1947.9" x2="644.5" y2="1957.1" stroke="#262626" stroke-width="1.5" />
<line x1="639.9" y1="1993.5" x2="649.1" y2="1993.5" stroke="#262626" stroke-width="1.5" />
<text x="672.3" y="1962.1" font-size="16.5" fill="#2a2a2a" stroke="#2a2a2a" stroke-width="0.25" textLength="66.2" lengthAdjust="spacing">POWER</text>
<text x="675.6" y="1991.8" font-size="13.4" fill="#2a2a2a" stroke="#2a2a2a" stroke-width="0.25" textLength="64.0" lengthAdjust="spacing">24V. DC.</text>
<circle cx="631.6" cy="1960.3" r="3.8" stroke="#262626" stroke-width="1.4" fill="#fff" />
<circle cx="631.6" cy="1987.0" r="3.8" stroke="#262626" stroke-width="1.4" fill="#fff" />
<line x1="522.9" y1="2057.9" x2="632.7" y2="2057.9" stroke="#262626" stroke-width="1.5" />
<line x1="522.9" y1="2087.6" x2="632.7" y2="2087.6" stroke="#262626" stroke-width="1.5" />
<line x1="522.9" y1="2137.6" x2="632.7" y2="2137.6" stroke="#262626" stroke-width="1.5" />
<line x1="522.9" y1="2167.2" x2="632.7" y2="2167.2" stroke="#262626" stroke-width="1.5" />
<rect x="633.1" y="2036.6" width="142.5" height="162.4" rx="0" stroke="#262626" stroke-width="1.5" fill="none" />
<text x="678.5" y="2115.7" font-size="13" fill="#2a2a2a" stroke="#2a2a2a" stroke-width="0.25" textLength="73.0" lengthAdjust="spacing">DCS. PLC</text>
<line x1="639.6" y1="2048.9" x2="648.8" y2="2048.9" stroke="#262626" stroke-width="1.5" /><line x1="644.2" y1="2044.3" x2="644.2" y2="2053.5" stroke="#262626" stroke-width="1.5" />
<line x1="639.6" y1="2096.1" x2="648.8" y2="2096.1" stroke="#262626" stroke-width="1.5" />
<line x1="639.6" y1="2128.6" x2="648.8" y2="2128.6" stroke="#262626" stroke-width="1.5" /><line x1="644.2" y1="2124.0" x2="644.2" y2="2133.2" stroke="#262626" stroke-width="1.5" />
<line x1="639.6" y1="2175.7" x2="648.8" y2="2175.7" stroke="#262626" stroke-width="1.5" />
<text x="557.4" y="2077.5" font-size="14.2" fill="#2a2a2a" stroke="#2a2a2a" stroke-width="0.25" textLength="43.3" lengthAdjust="spacing">通道1</text>
<text x="555.5" y="2157.8" font-size="14.2" fill="#2a2a2a" stroke="#2a2a2a" stroke-width="0.25" textLength="44.2" lengthAdjust="spacing">通道 2</text>
<text x="563.0" y="2118.4" font-size="12.5" fill="#2a2a2a" stroke="#2a2a2a" stroke-width="0.25" textLength="37.5" lengthAdjust="spacing">0–5V</text>
<circle cx="632.7" cy="2057.9" r="3.8" stroke="#262626" stroke-width="1.4" fill="#fff" />
<circle cx="632.7" cy="2087.6" r="3.8" stroke="#262626" stroke-width="1.4" fill="#fff" />
<circle cx="632.7" cy="2137.6" r="3.8" stroke="#262626" stroke-width="1.4" fill="#fff" />
<circle cx="632.7" cy="2167.2" r="3.8" stroke="#262626" stroke-width="1.4" fill="#fff" />
<text x="324.8" y="2243.9" font-size="27" fill="#2a2a2a" stroke="#2a2a2a" stroke-width="0.45" textLength="150.2" lengthAdjust="spacing">THT<tspan font-size="34.3">–</tspan>IP214</text>
<text x="268.9" y="2276.7" font-size="23.5" fill="#2a2a2a" stroke="#2a2a2a" stroke-width="0.2" font-weight="500" textLength="253.1" lengthAdjust="spacing">一进二出,电压输出型</text>
</g>
</svg>
</body>
</html>
